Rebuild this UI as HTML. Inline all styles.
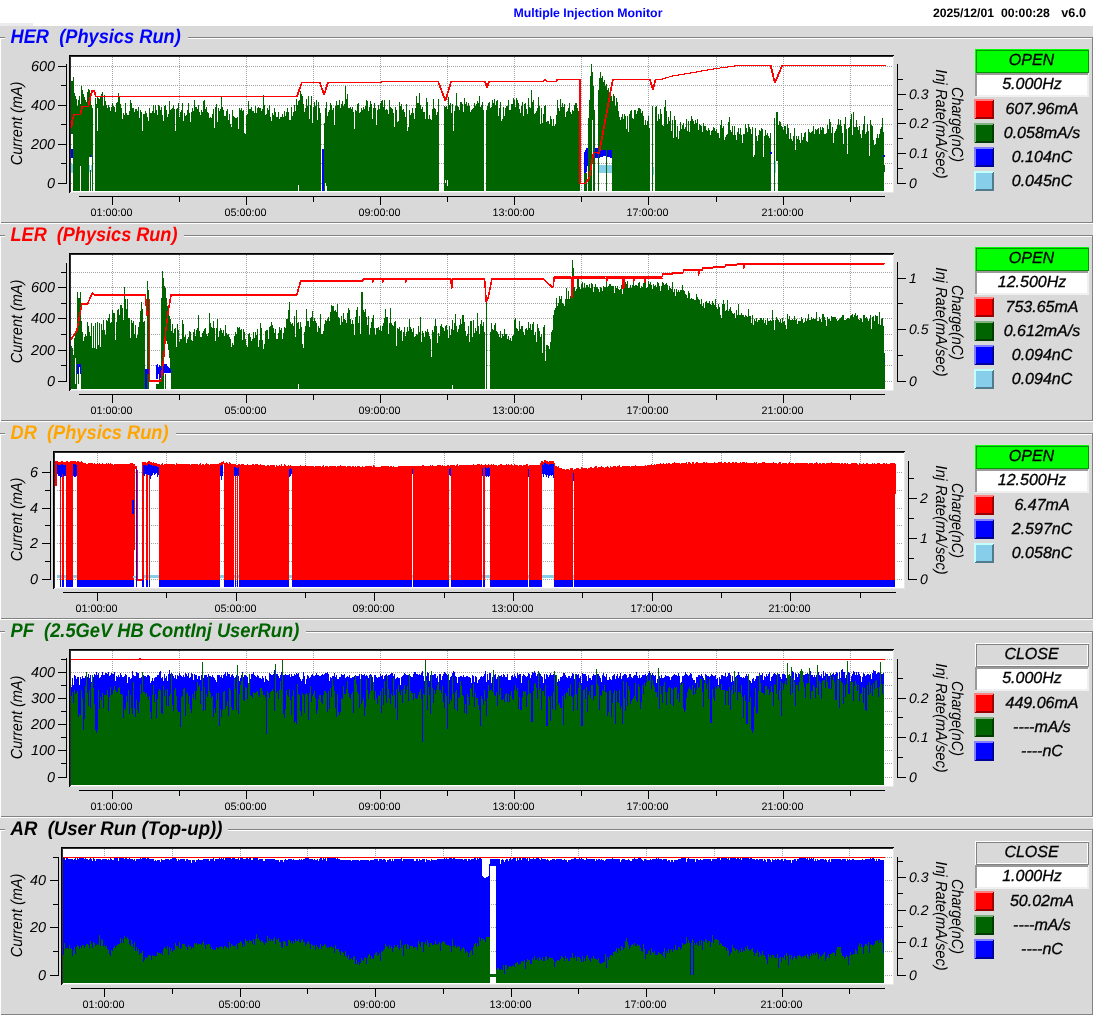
<!DOCTYPE html>
<html><head><meta charset="utf-8"><title>Multiple Injection Monitor</title>
<style>html,body{margin:0;padding:0;background:#d9d9d9;}body{width:1093px;height:1015px;overflow:hidden;font-family:"Liberation Sans",sans-serif;}svg{display:block;will-change:transform;}</style></head>
<body>
<svg width="1093" height="1015" viewBox="0 0 1093 1015" font-family='"Liberation Sans", sans-serif' shape-rendering="crispEdges" text-rendering="geometricPrecision"><rect width="1093" height="1015" fill="#d9d9d9"/>
<rect x="0" y="0" width="1093" height="26" fill="#ffffff"/>
<rect x="0" y="23" width="33" height="3" fill="#ebebeb"/>
<text x="513.5" y="17" font-size="12.3" text-anchor="start" font-style="normal" font-weight="bold" fill="#0000ff" >Multiple Injection Monitor</text>
<text x="933" y="17" font-size="12.2" text-anchor="start" font-style="normal" font-weight="bold" fill="#000" >2025/12/01</text>
<text x="1001" y="17" font-size="12.2" text-anchor="start" font-style="normal" font-weight="bold" fill="#000" >00:00:28</text>
<text x="1061.3" y="17" font-size="12.7" text-anchor="start" font-style="normal" font-weight="bold" fill="#000" >v6.0</text>
<rect x="0" y="37" width="5" height="1" fill="#828282"/>
<rect x="0" y="38" width="5" height="1" fill="#fff"/>
<rect x="188" y="37" width="905" height="1" fill="#828282"/>
<rect x="188" y="38" width="904" height="1" fill="#fff"/>
<rect x="1" y="222" width="1092" height="1" fill="#828282"/>
<rect x="0" y="223" width="1093" height="1" fill="#fff"/>
<rect x="0" y="38" width="1" height="185" fill="#fff"/>
<rect x="1092" y="37" width="1" height="186" fill="#828282"/>
<text x="0" y="0" font-size="19.8" text-anchor="start" font-style="italic" font-weight="bold" fill="#0000ff" transform="translate(10.5,42.8) scale(0.922,1)">HER&#160;&#160;(Physics Run)</text>
<rect x="69" y="55" width="825" height="138" fill="#e6e6e6"/>
<rect x="69" y="55" width="825" height="1" fill="#000"/>
<rect x="69" y="55" width="1" height="138" fill="#000"/>
<rect x="70" y="56" width="823" height="1" fill="#2e2e2e"/>
<rect x="70" y="56" width="1" height="136" fill="#2e2e2e"/>
<rect x="71" y="57" width="822" height="135" fill="#fff"/>
<path d="M71 183.5H892" stroke="#a3a3a3" stroke-width="1" stroke-dasharray="1 1" fill="none"/>
<path d="M71 163.5H892" stroke="#a3a3a3" stroke-width="1" stroke-dasharray="1 1" fill="none"/>
<path d="M71 144.5H892" stroke="#a3a3a3" stroke-width="1" stroke-dasharray="1 1" fill="none"/>
<path d="M71 124.5H892" stroke="#a3a3a3" stroke-width="1" stroke-dasharray="1 1" fill="none"/>
<path d="M71 105.5H892" stroke="#a3a3a3" stroke-width="1" stroke-dasharray="1 1" fill="none"/>
<path d="M71 85.5H892" stroke="#a3a3a3" stroke-width="1" stroke-dasharray="1 1" fill="none"/>
<path d="M71 66.5H892" stroke="#a3a3a3" stroke-width="1" stroke-dasharray="1 1" fill="none"/>
<path d="M112.5 57V191" stroke="#a3a3a3" stroke-width="1" stroke-dasharray="1 1" fill="none"/>
<path d="M179.5 57V191" stroke="#a3a3a3" stroke-width="1" stroke-dasharray="1 1" fill="none"/>
<path d="M246.5 57V191" stroke="#a3a3a3" stroke-width="1" stroke-dasharray="1 1" fill="none"/>
<path d="M313.5 57V191" stroke="#a3a3a3" stroke-width="1" stroke-dasharray="1 1" fill="none"/>
<path d="M380.5 57V191" stroke="#a3a3a3" stroke-width="1" stroke-dasharray="1 1" fill="none"/>
<path d="M447.5 57V191" stroke="#a3a3a3" stroke-width="1" stroke-dasharray="1 1" fill="none"/>
<path d="M514.5 57V191" stroke="#a3a3a3" stroke-width="1" stroke-dasharray="1 1" fill="none"/>
<path d="M581.5 57V191" stroke="#a3a3a3" stroke-width="1" stroke-dasharray="1 1" fill="none"/>
<path d="M648.5 57V191" stroke="#a3a3a3" stroke-width="1" stroke-dasharray="1 1" fill="none"/>
<path d="M716.5 57V191" stroke="#a3a3a3" stroke-width="1" stroke-dasharray="1 1" fill="none"/>
<path d="M783.5 57V191" stroke="#a3a3a3" stroke-width="1" stroke-dasharray="1 1" fill="none"/>
<path d="M850.5 57V191" stroke="#a3a3a3" stroke-width="1" stroke-dasharray="1 1" fill="none"/>
<path fill="#006400" d="M73 191V77h1V93h1V96h1V99h1V106h1V100h1V96h1V104h1V86h1V90h1V94h1V97h1V100h1V102h1V92h1V89h1V90h1V100h1V105h1V108h1V191zM95 191V98h1V104h1V97h1V98h1V99h1V96h1V94h1V92h1V106h1V95h1V101h1V105h1V108h1V105h1V107h1V111h1V107h1V103h1V106h1V107h1V112h1V103h1V102h1V93h1V97h1V104h1V108h1V119h1V113h1V115h1V103h1V113h1V115h2V111h1V100h1V103h1V108h2V112h1V109h2V111h1V107h1V118h1V110h1V112h1V131h1V114h2V111h1V113h1V117h1V121h1V108h1V113h2V111h1V105h1V113h1V105h1V110h1V115h1V105h1V106h1V110h1V107h1V115h1V121h1V106h1V105h1V110h1V117h1V114h1V101h1V110h1V109h1V108h1V105h1V109h1V131h1V109h1V108h1V103h1V117h1V112h1V110h1V103h1V121h1V113h1V116h1V115h1V110h1V103h1V113h1V122h1V112h1V108h1V111h1V100h1V107h2V109h1V105h1V112h1V115h1V110h1V112h1V101h1V100h1V109h1V107h1V112h1V113h1V118h1V117h1V118h1V114h1V109h1V128h1V107h1V104h1V122h1V108h1V111h1V109h1V96h1V107h1V110h1V116h2V111h1V109h1V120h1V114h1V124h1V127h1V110h1V116h1V117h1V118h2V117h1V129h1V108h1V110h1V108h1V111h1V110h1V133h1V134h1V115h1V114h1V101h1V109h2V107h1V111h2V113h1V106h1V113h1V108h1V107h1V108h2V111h1V109h1V95h1V105h1V115h1V114h1V108h1V110h1V105h1V117h1V121h1V113h1V115h1V108h1V112h1V117h2V112h1V119h1V117h2V114h1V117h1V111h1V116h1V112h1V108h1V112h1V120h2V107h1V116h1V112h1V105h1V111h1V99h1V105h1V101h1V100h1V91h1V94h1V96h1V104h1V112h1V108h1V99h1V106h1V96h1V119h1V105h1V96h1V123h1V107h1V102h1V106h1V100h1V120h1V102h1V108h1V113h1V191zM324 191V123h1V108h1V102h1V116h1V112h1V110h1V103h1V105h1V110h1V108h1V125h1V106h1V101h1V105h2V100h1V108h1V104h1V101h1V106h1V104h1V86h1V99h1V94h1V108h2V107h1V109h1V107h1V112h1V129h1V110h1V111h1V104h1V103h1V113h1V112h1V108h1V110h1V107h1V109h1V106h1V100h1V101h1V111h1V107h1V101h1V104h1V119h1V108h1V103h1V108h1V125h1V110h1V105h1V109h1V103h1V101h1V100h1V107h1V100h1V110h1V109h1V110h1V114h1V100h1V107h1V108h1V109h1V113h1V127h1V107h1V110h1V122h1V121h1V102h1V106h1V104h1V110h1V109h1V112h1V117h1V104h1V131h1V127h1V110h1V115h1V113h1V108h1V113h1V119h1V108h1V96h1V103h2V93h1V105h1V109h1V107h1V112h2V119h1V98h1V102h1V119h1V115h1V119h1V120h1V109h1V99h1V108h1V109h1V115h1V112h1V99h1V191zM444 191V106h1V107h1V106h1V109h1V97h1V105h1V103h1V113h1V104h1V131h1V111h1V106h1V93h1V106h1V107h1V110h1V102h2V104h1V112h1V98h1V104h1V102h1V106h1V103h1V106h1V112h1V110h1V109h1V108h1V103h1V106h1V104h1V101h1V103h1V96h1V107h1V105h1V102h1V110h1V191zM486 191V110h1V106h1V103h1V102h1V108h1V107h1V100h1V103h1V99h1V105h1V101h1V100h1V116h1V108h1V102h1V121h1V119h1V107h1V116h1V108h1V106h2V100h1V110h2V104h2V98h1V100h1V107h1V98h1V100h1V103h1V109h1V113h1V106h1V102h1V116h1V104h1V103h1V109h1V114h1V98h1V107h1V108h1V90h1V102h1V100h1V114h1V113h1V111h1V108h1V97h1V106h1V124h1V108h1V123h1V114h1V106h1V105h1V122h1V121h2V124h1V116h1V119h1V126h1V119h1V126h1V124h1V115h1V100h1V108h1V111h1V99h1V107h1V103h1V107h1V104h1V117h1V112h1V111h1V108h1V103h1V112h1V114h1V110h1V111h1V105h1V103h2V108h1V111h1V107h1V191zM612 191V101h1V94h1V96h1V106h1V98h1V102h1V111h1V117h1V120h1V117h1V114h1V119h1V114h1V116h1V129h1V116h1V132h1V114h1V111h1V110h1V118h1V119h1V110h2V114h1V111h1V108h2V109h1V113h1V111h1V116h1V125h1V120h1V125h1V121h1V116h1V128h1V191zM652 191V106h1V191zM655 191V107h1V106h1V121h1V114h1V119h1V109h1V114h1V125h1V126h1V107h1V100h1V111h1V124h1V117h1V121h1V111h1V131h1V120h1V138h1V116h1V120h1V137h1V126h1V139h1V131h1V122h1V129h1V125h1V123h1V129h1V127h1V119h1V131h1V121h1V132h1V121h1V116h1V119h1V121h1V124h1V120h1V123h1V119h1V130h1V124h1V125h1V126h1V132h1V123h1V126h2V130h1V131h1V128h1V130h1V135h1V131h1V130h1V127h1V128h1V131h1V129h1V133h2V138h1V125h1V120h1V128h1V126h1V140h1V137h1V135h1V134h1V122h1V117h1V130h1V132h1V126h1V135h1V126h1V135h1V140h1V132h1V128h1V134h1V128h1V135h1V143h1V134h2V124h1V128h1V132h1V124h1V127h1V129h1V134h1V127h1V157h1V155h1V128h1V136h1V141h1V135h1V130h1V131h1V128h1V129h1V157h1V136h1V130h1V135h1V133h1V136h1V138h1V133h1V191zM774 191V122h1V191zM778 191V125h1V121h1V122h1V126h1V127h1V130h1V126h2V134h1V124h1V128h1V139h1V133h1V139h1V141h1V136h1V128h1V150h1V136h1V139h1V136h1V140h1V143h1V133h1V140h1V137h1V133h1V132h1V141h1V142h1V129h1V132h1V133h1V132h1V131h1V126h1V134h1V129h1V130h1V129h1V128h1V134h1V127h1V130h1V127h1V128h1V134h2V133h1V125h1V129h1V119h1V122h1V133h1V127h1V143h1V133h1V131h1V129h1V125h1V119h1V125h1V120h1V126h1V133h1V144h1V124h1V117h1V129h1V154h1V128h1V127h1V119h1V114h1V135h1V112h1V127h2V120h1V127h1V130h1V126h1V134h1V138h1V130h1V124h1V116h1V134h1V132h1V124h1V131h1V156h1V120h1V125h1V126h1V140h1V145h1V144h1V138h1V134h1V138h1V134h1V129h1V127h1V118h1V132h1V191z"/>
<rect x="80" y="166" width="1" height="25" fill="#fff"/>
<rect x="89" y="157" width="1" height="34" fill="#fff"/>
<rect x="91" y="157" width="1" height="34" fill="#fff"/>
<rect x="298" y="185" width="1" height="6" fill="#fff"/>
<rect x="325" y="183" width="1" height="8" fill="#fff"/>
<rect x="326" y="186" width="1" height="5" fill="#fff"/>
<rect x="97" y="108" width="1" height="23" fill="#fff"/>
<rect x="90" y="157" width="1" height="13" fill="#fff"/>
<rect x="71" y="81" width="2" height="53" fill="#006400"/>
<rect x="71" y="149" width="2" height="9" fill="#0000ff"/>
<rect x="71" y="164" width="2" height="9" fill="#87ceeb"/>
<rect x="89" y="165" width="1" height="7" fill="#87ceeb"/>
<rect x="91" y="165" width="1" height="7" fill="#87ceeb"/>
<rect x="90" y="155" width="1" height="2" fill="#0000ff"/>
<rect x="445" y="180" width="3" height="11" fill="#fff"/>
<rect x="445" y="183" width="1" height="8" fill="#006400"/>
<rect x="446" y="177" width="1" height="14" fill="#006400"/>
<rect x="447" y="186" width="1" height="5" fill="#006400"/>
<rect x="448" y="181" width="1" height="10" fill="#006400"/>
<rect x="322" y="149" width="2" height="42" fill="#0000ff"/>
<path fill="#0000ff" d="M584 178V152h1V178zM585 175V150h1V175zM586 172V148h1V172zM587 166V148h1V166zM588 160V148h1V160zM589 159V147h1V159zM590 158V147h2V158zM592 157V148h3V157zM595 158V148h5V158zM600 157V148h2V147h1V157zM603 156V147h3V156zM606 157V148h4V157zM610 158V149h2V158z"/>
<path fill="#87ceeb" d="M599 173V165h13V173z"/>
<rect x="589" y="166" width="2" height="6" fill="#87ceeb"/>
<rect x="584" y="173" width="3" height="18" fill="#006400"/>
<path fill="#006400" d="M588 191V118h1V100h1V76h1V64h1V72h1V86h1V110h1V191z"/>
<rect x="592" y="120" width="1" height="71" fill="#fff"/>
<path fill="#006400" d="M598 191V90h1V191zM599 150V78h1V72h1V78h1V76h1V82h1V80h1V86h1V150zM606 191V84h1V191zM607 150V90h1V88h1V96h1V92h1V96h1V150z"/>
<rect x="652" y="120" width="1" height="71" fill="#006400"/>
<rect x="653" y="167" width="1" height="8" fill="#87ceeb"/>
<rect x="774" y="118" width="1" height="73" fill="#006400"/>
<rect x="775" y="161" width="1" height="12" fill="#87ceeb"/>
<rect x="776" y="112" width="2" height="49" fill="#006400"/>
<rect x="884" y="165" width="1" height="7" fill="#006400"/>
<rect x="770" y="152" width="2" height="2" fill="#0000ff"/>
<rect x="883" y="155" width="2" height="2" fill="#0000ff"/>
<polyline points="71,128 72,120 74,114 80,114 82,106 88,106 90,97 92,90 93.5,90 95.5,96.5 296.5,96.5 301.5,82.5 319.5,82.5 323.7,95 327.5,82.5 381,82.5 382,81 437.5,81 445,101 450.8,81 484.5,81 486.6,88 488.7,81 543,81 544.5,79.5 546,81 556,81 557,79.5 579.6,79.5 579.6,183.5 584.5,183.5 588.8,178.5 593.3,152 598.7,153.5 612.5,79 649.4,79 652.4,89.5 655.4,79 662,79 672,76 690,73 716,68.5 738,65.5 770.3,65.5 774.5,83 781.8,65.5 885,65.5" fill="none" stroke="#ff0000" stroke-width="1" stroke-linejoin="bevel"/>
<polyline points="71.8,128 72.8,120 74.8,114 80.8,114 82.8,106 88.8,106 90.8,97 92.8,90 94.3,90 96.3,96.5 297.3,96.5 302.3,82.5 320.3,82.5 324.5,95 328.3,82.5 381.8,82.5 382.8,81 438.3,81 445.8,101 451.6,81 485.3,81 487.4,88 489.5,81 543.8,81 545.3,79.5 546.8,81 556.8,81 557.8,79.5 580.4,79.5 580.4,183.5 585.3,183.5 589.6,178.5 594.1,152 599.5,153.5 613.3,79 650.2,79 653.2,89.5 656.2,79 662.8,79 672.8,76 690.8,73 716.8,68.5 738.8,65.5 771.1,65.5 775.3,83 782.6,65.5 885.8,65.5" fill="none" stroke="#ff0000" stroke-width="1" stroke-linejoin="bevel"/>
<rect x="66" y="64" width="1" height="120" fill="#000"/>
<rect x="58" y="183" width="9" height="1" fill="#000"/>
<text x="55" y="187.8" font-size="14.4" text-anchor="end" font-style="italic" font-weight="normal" fill="#000" >0</text>
<rect x="61" y="163" width="6" height="1" fill="#000"/>
<rect x="58" y="144" width="9" height="1" fill="#000"/>
<text x="55" y="148.8" font-size="14.4" text-anchor="end" font-style="italic" font-weight="normal" fill="#000" >200</text>
<rect x="61" y="124" width="6" height="1" fill="#000"/>
<rect x="58" y="105" width="9" height="1" fill="#000"/>
<text x="55" y="109.8" font-size="14.4" text-anchor="end" font-style="italic" font-weight="normal" fill="#000" >400</text>
<rect x="61" y="85" width="6" height="1" fill="#000"/>
<rect x="58" y="66" width="9" height="1" fill="#000"/>
<text x="55" y="70.8" font-size="14.4" text-anchor="end" font-style="italic" font-weight="normal" fill="#000" >600</text>
<text x="0" y="0" font-size="16" text-anchor="middle" font-style="italic" font-weight="normal" fill="#000" transform="translate(22.2,123.5) rotate(-90) scale(0.905,1)">Current (mA)</text>
<rect x="897" y="64" width="1" height="120.4" fill="#000"/>
<rect x="897" y="183" width="9" height="1" fill="#000"/>
<text x="909" y="188" font-size="14" text-anchor="start" font-style="italic" font-weight="normal" fill="#000" >0</text>
<rect x="897" y="168" width="6" height="1" fill="#000"/>
<rect x="897" y="153" width="9" height="1" fill="#000"/>
<text x="909" y="158" font-size="14" text-anchor="start" font-style="italic" font-weight="normal" fill="#000" >0.1</text>
<rect x="897" y="138" width="6" height="1" fill="#000"/>
<rect x="897" y="123" width="9" height="1" fill="#000"/>
<text x="909" y="128" font-size="14" text-anchor="start" font-style="italic" font-weight="normal" fill="#000" >0.2</text>
<rect x="897" y="109" width="6" height="1" fill="#000"/>
<rect x="897" y="94" width="9" height="1" fill="#000"/>
<text x="909" y="99" font-size="14" text-anchor="start" font-style="italic" font-weight="normal" fill="#000" >0.3</text>
<rect x="897" y="79" width="6" height="1" fill="#000"/>
<text x="0" y="0" font-size="16" text-anchor="middle" font-style="italic" font-weight="normal" fill="#000" transform="translate(936,124) rotate(90) scale(0.918,1)">Inj Rate(mA/sec)</text>
<text x="0" y="0" font-size="16" text-anchor="middle" font-style="italic" font-weight="normal" fill="#000" transform="translate(952,124.5) rotate(90) scale(0.895,1)">Charge(nC)</text>
<rect x="79" y="196" width="806" height="1" fill="#000"/>
<rect x="112" y="196" width="1" height="9" fill="#000"/>
<text x="111.5" y="216" font-size="10.8" text-anchor="middle" font-style="normal" font-weight="normal" fill="#000" >01:00:00</text>
<rect x="179" y="196" width="1" height="6" fill="#000"/>
<rect x="246" y="196" width="1" height="9" fill="#000"/>
<text x="245.5" y="216" font-size="10.8" text-anchor="middle" font-style="normal" font-weight="normal" fill="#000" >05:00:00</text>
<rect x="313" y="196" width="1" height="6" fill="#000"/>
<rect x="380" y="196" width="1" height="9" fill="#000"/>
<text x="379.5" y="216" font-size="10.8" text-anchor="middle" font-style="normal" font-weight="normal" fill="#000" >09:00:00</text>
<rect x="447" y="196" width="1" height="6" fill="#000"/>
<rect x="514" y="196" width="1" height="9" fill="#000"/>
<text x="513.5" y="216" font-size="10.8" text-anchor="middle" font-style="normal" font-weight="normal" fill="#000" >13:00:00</text>
<rect x="581" y="196" width="1" height="6" fill="#000"/>
<rect x="648" y="196" width="1" height="9" fill="#000"/>
<text x="647.5" y="216" font-size="10.8" text-anchor="middle" font-style="normal" font-weight="normal" fill="#000" >17:00:00</text>
<rect x="716" y="196" width="1" height="6" fill="#000"/>
<rect x="783" y="196" width="1" height="9" fill="#000"/>
<text x="782.5" y="216" font-size="10.8" text-anchor="middle" font-style="normal" font-weight="normal" fill="#000" >21:00:00</text>
<rect x="850" y="196" width="1" height="6" fill="#000"/>
<rect x="975" y="49" width="114" height="24" fill="#00ff00"/>
<rect x="975" y="49" width="114" height="1" fill="#00ff00"/>
<rect x="975" y="49" width="1" height="24" fill="#00ff00"/>
<rect x="976" y="50" width="112" height="1" fill="#009600"/>
<rect x="976" y="50" width="1" height="22" fill="#009600"/>
<rect x="977" y="71" width="111" height="1" fill="#00ff00"/>
<rect x="1087" y="51" width="1" height="21" fill="#00ff00"/>
<rect x="976" y="72" width="113" height="1" fill="#009600"/>
<rect x="1088" y="50" width="1" height="23" fill="#009600"/>
<text x="1031.5" y="65" font-size="16" text-anchor="middle" font-style="italic" font-weight="normal" fill="#000" stroke="#000" stroke-width="0.3">OPEN</text>
<rect x="975" y="73" width="114" height="24" fill="#f0f0f0"/>
<rect x="975" y="73" width="113" height="2" fill="#9a9a9a"/>
<rect x="975" y="73" width="2" height="23" fill="#9a9a9a"/>
<rect x="977" y="75" width="110" height="20" fill="#fff"/>
<text x="1032" y="89.1" font-size="16" text-anchor="middle" font-style="italic" font-weight="normal" fill="#000" stroke="#000" stroke-width="0.3">5.000Hz</text>
<rect x="974" y="99" width="20" height="20" fill="#ff0000"/>
<rect x="974" y="99" width="20" height="1" fill="#ff8080"/>
<rect x="974" y="99" width="1" height="20" fill="#ff8080"/>
<rect x="975" y="100" width="18" height="1" fill="#ff8080"/>
<rect x="975" y="100" width="1" height="18" fill="#ff8080"/>
<rect x="975" y="118" width="19" height="1" fill="#990000"/>
<rect x="993" y="100" width="1" height="19" fill="#990000"/>
<rect x="976" y="117" width="17" height="1" fill="#990000"/>
<rect x="992" y="101" width="1" height="17" fill="#990000"/>
<text x="1042" y="113.8" font-size="16" text-anchor="middle" font-style="italic" font-weight="normal" fill="#000" stroke="#000" stroke-width="0.3">607.96mA</text>
<rect x="974" y="123" width="20" height="20" fill="#006400"/>
<rect x="974" y="123" width="20" height="1" fill="#7fb27f"/>
<rect x="974" y="123" width="1" height="20" fill="#7fb27f"/>
<rect x="975" y="124" width="18" height="1" fill="#7fb27f"/>
<rect x="975" y="124" width="1" height="18" fill="#7fb27f"/>
<rect x="975" y="142" width="19" height="1" fill="#003c00"/>
<rect x="993" y="124" width="1" height="19" fill="#003c00"/>
<rect x="976" y="141" width="17" height="1" fill="#003c00"/>
<rect x="992" y="125" width="1" height="17" fill="#003c00"/>
<text x="1042" y="137.8" font-size="16" text-anchor="middle" font-style="italic" font-weight="normal" fill="#000" stroke="#000" stroke-width="0.3">0.058mA/s</text>
<rect x="974" y="147" width="20" height="20" fill="#0000ff"/>
<rect x="974" y="147" width="20" height="1" fill="#8080ff"/>
<rect x="974" y="147" width="1" height="20" fill="#8080ff"/>
<rect x="975" y="148" width="18" height="1" fill="#8080ff"/>
<rect x="975" y="148" width="1" height="18" fill="#8080ff"/>
<rect x="975" y="166" width="19" height="1" fill="#000099"/>
<rect x="993" y="148" width="1" height="19" fill="#000099"/>
<rect x="976" y="165" width="17" height="1" fill="#000099"/>
<rect x="992" y="149" width="1" height="17" fill="#000099"/>
<text x="1042" y="161.8" font-size="16" text-anchor="middle" font-style="italic" font-weight="normal" fill="#000" stroke="#000" stroke-width="0.3">0.104nC</text>
<rect x="974" y="171" width="20" height="20" fill="#87ceeb"/>
<rect x="974" y="171" width="20" height="1" fill="#c3ffff"/>
<rect x="974" y="171" width="1" height="20" fill="#c3ffff"/>
<rect x="975" y="172" width="18" height="1" fill="#c3ffff"/>
<rect x="975" y="172" width="1" height="18" fill="#c3ffff"/>
<rect x="975" y="190" width="19" height="1" fill="#517c8d"/>
<rect x="993" y="172" width="1" height="19" fill="#517c8d"/>
<rect x="976" y="189" width="17" height="1" fill="#517c8d"/>
<rect x="992" y="173" width="1" height="17" fill="#517c8d"/>
<text x="1042" y="185.8" font-size="16" text-anchor="middle" font-style="italic" font-weight="normal" fill="#000" stroke="#000" stroke-width="0.3">0.045nC</text>
<rect x="0" y="235" width="5" height="1" fill="#828282"/>
<rect x="0" y="236" width="5" height="1" fill="#fff"/>
<rect x="184" y="235" width="909" height="1" fill="#828282"/>
<rect x="184" y="236" width="908" height="1" fill="#fff"/>
<rect x="1" y="420" width="1092" height="1" fill="#828282"/>
<rect x="0" y="421" width="1093" height="1" fill="#fff"/>
<rect x="0" y="236" width="1" height="185" fill="#fff"/>
<rect x="1092" y="235" width="1" height="186" fill="#828282"/>
<text x="0" y="0" font-size="19.8" text-anchor="start" font-style="italic" font-weight="bold" fill="#ff0000" transform="translate(10.5,240.8) scale(0.915,1)">LER&#160;&#160;(Physics Run)</text>
<rect x="69" y="253" width="825" height="138" fill="#e6e6e6"/>
<rect x="69" y="253" width="825" height="1" fill="#000"/>
<rect x="69" y="253" width="1" height="138" fill="#000"/>
<rect x="70" y="254" width="823" height="1" fill="#2e2e2e"/>
<rect x="70" y="254" width="1" height="136" fill="#2e2e2e"/>
<rect x="71" y="255" width="822" height="135" fill="#fff"/>
<path d="M71 381.5H892" stroke="#a3a3a3" stroke-width="1" stroke-dasharray="1 1" fill="none"/>
<path d="M71 365.5H892" stroke="#a3a3a3" stroke-width="1" stroke-dasharray="1 1" fill="none"/>
<path d="M71 350.5H892" stroke="#a3a3a3" stroke-width="1" stroke-dasharray="1 1" fill="none"/>
<path d="M71 334.5H892" stroke="#a3a3a3" stroke-width="1" stroke-dasharray="1 1" fill="none"/>
<path d="M71 318.5H892" stroke="#a3a3a3" stroke-width="1" stroke-dasharray="1 1" fill="none"/>
<path d="M71 303.5H892" stroke="#a3a3a3" stroke-width="1" stroke-dasharray="1 1" fill="none"/>
<path d="M71 287.5H892" stroke="#a3a3a3" stroke-width="1" stroke-dasharray="1 1" fill="none"/>
<path d="M71 272.5H892" stroke="#a3a3a3" stroke-width="1" stroke-dasharray="1 1" fill="none"/>
<path d="M112.5 255V389" stroke="#a3a3a3" stroke-width="1" stroke-dasharray="1 1" fill="none"/>
<path d="M179.5 255V389" stroke="#a3a3a3" stroke-width="1" stroke-dasharray="1 1" fill="none"/>
<path d="M246.5 255V389" stroke="#a3a3a3" stroke-width="1" stroke-dasharray="1 1" fill="none"/>
<path d="M313.5 255V389" stroke="#a3a3a3" stroke-width="1" stroke-dasharray="1 1" fill="none"/>
<path d="M380.5 255V389" stroke="#a3a3a3" stroke-width="1" stroke-dasharray="1 1" fill="none"/>
<path d="M447.5 255V389" stroke="#a3a3a3" stroke-width="1" stroke-dasharray="1 1" fill="none"/>
<path d="M514.5 255V389" stroke="#a3a3a3" stroke-width="1" stroke-dasharray="1 1" fill="none"/>
<path d="M581.5 255V389" stroke="#a3a3a3" stroke-width="1" stroke-dasharray="1 1" fill="none"/>
<path d="M648.5 255V389" stroke="#a3a3a3" stroke-width="1" stroke-dasharray="1 1" fill="none"/>
<path d="M716.5 255V389" stroke="#a3a3a3" stroke-width="1" stroke-dasharray="1 1" fill="none"/>
<path d="M783.5 255V389" stroke="#a3a3a3" stroke-width="1" stroke-dasharray="1 1" fill="none"/>
<path d="M850.5 255V389" stroke="#a3a3a3" stroke-width="1" stroke-dasharray="1 1" fill="none"/>
<path fill="#006400" d="M71 389V346h1V348h1V355h1V338h1V334h1V332h1V292h1V298h2V292h1V321h1V332h1V341h1V337h1V334h1V336h1V322h1V326h1V332h1V336h1V323h1V348h1V326h1V348h1V323h1V349h1V322h1V345h1V323h1V347h1V324h1V330h1V320h1V330h1V335h1V320h1V321h1V318h1V314h1V323h1V322h1V310h1V313h2V340h1V322h1V310h1V309h1V315h1V305h2V308h1V320h1V287h1V299h1V309h1V299h1V318h2V338h1V320h1V323h1V321h1V334h1V325h1V338h1V335h1V327h1V322h1V311h1V302h1V309h1V322h1V321h1V389zM147 389V281h1V290h1V389zM161 389V298h1V271h1V278h1V286h1V288h1V298h1V306h1V310h1V316h1V319h1V331h1V324h1V333h1V329h1V328h1V347h1V324h1V330h1V342h1V339h2V320h1V324h1V337h1V335h1V343h1V339h1V337h1V331h1V332h1V340h1V341h1V332h1V329h1V336h1V330h1V328h1V315h1V331h1V337h2V333h1V331h1V329h1V328h1V334h1V336h1V333h1V313h1V323h1V327h1V328h1V321h1V328h1V341h1V328h1V319h1V337h1V331h1V328h1V330h1V333h1V330h1V336h1V325h1V333h1V335h1V334h1V337h1V339h1V347h1V343h1V345h1V336h1V332h1V334h1V327h1V328h1V327h1V330h1V329h1V340h1V329h1V332h1V339h1V345h1V347h1V334h1V333h1V337h1V341h1V339h1V332h1V338h1V332h1V335h1V329h1V347h1V340h1V323h1V328h1V340h1V349h1V344h1V331h1V330h2V339h1V327h1V326h1V322h1V325h1V328h1V333h1V329h1V339h2V333h1V327h1V330h1V328h1V339h1V333h1V327h1V328h1V319h2V310h1V302h1V322h1V324h1V323h1V326h1V316h1V337h1V310h1V323h1V322h1V329h1V322h1V327h1V344h1V348h1V332h1V326h1V309h1V321h2V327h1V318h1V317h1V311h1V321h1V318h1V321h1V323h1V332h1V326h1V328h1V314h1V334h2V331h1V324h1V320h1V321h1V319h1V317h1V321h1V312h1V305h1V306h2V311h1V310h1V312h1V304h1V317h1V318h1V325h1V316h1V322h1V313h1V319h1V320h1V323h1V313h1V308h1V310h1V319h1V324h1V320h1V324h1V335h1V317h1V310h1V307h1V323h1V316h1V334h1V292h2V310h1V312h1V309h1V317h1V325h1V316h1V335h1V328h1V322h1V318h1V315h1V328h1V335h1V328h2V327h1V330h1V326h1V331h1V326h1V323h1V318h1V309h1V317h2V334h1V323h1V308h1V323h1V325h1V326h1V322h1V321h1V346h1V328h1V329h1V327h1V331h1V330h1V341h1V332h1V327h1V336h1V332h1V327h1V331h1V319h1V327h1V329h1V332h1V328h1V337h1V336h1V334h1V335h1V326h1V332h1V317h1V342h1V331h1V333h1V337h1V331h1V332h1V329h1V332h1V336h1V339h1V357h1V330h1V332h1V326h1V319h1V326h1V343h1V333h1V336h1V326h1V324h1V327h1V328h1V331h1V326h1V325h1V330h1V338h1V326h1V335h1V329h1V320h1V330h1V323h1V314h1V326h1V332h1V329h1V325h1V319h1V324h1V315h2V322h1V331h1V336h1V334h1V326h1V342h1V321h2V337h1V320h1V333h1V328h1V331h1V313h1V326h1V334h1V324h1V320h1V326h1V322h1V332h1V389zM486 389V303h1V389zM490 389V332h1V323h1V329h1V330h1V325h1V323h1V331h1V332h1V334h1V337h1V331h1V338h1V334h1V336h1V329h1V334h2V339h1V336h1V340h1V338h1V341h1V336h1V335h1V320h1V318h1V328h1V329h1V331h1V321h1V329h1V326h2V332h1V335h1V329h1V328h1V330h1V322h1V328h1V324h1V330h1V324h1V322h1V335h1V332h1V342h1V324h1V328h1V331h1V337h1V334h1V353h1V327h1V325h1V361h1V345h2V346h1V349h1V342h1V332h1V330h1V315h1V310h1V308h1V298h1V306h1V303h1V296h1V299h1V296h1V303h1V304h1V306h1V299h1V288h1V299h1V291h1V299h1V296h1V298h1V260h1V268h1V287h1V291h1V289h1V276h2V287h1V289h1V284h1V282h1V288h1V283h1V288h1V285h2V287h1V284h1V288h1V283h1V284h1V292h1V287h1V284h1V287h2V289h1V292h1V287h1V288h1V291h1V286h1V287h2V279h1V287h1V286h1V284h2V286h3V293h1V286h1V288h1V286h1V289h1V290h1V289h1V285h1V294h1V280h1V286h1V282h1V284h1V281h1V288h2V285h1V288h1V285h1V281h1V286h1V285h2V286h1V283h1V282h1V288h1V286h1V287h1V283h1V280h1V282h1V288h1V287h1V281h1V284h1V282h1V285h1V289h1V284h1V286h1V285h1V287h1V282h1V283h1V286h1V291h1V286h1V282h1V283h1V285h1V284h1V283h1V285h1V290h1V286h1V288h1V289h1V282h1V292h1V289h1V296h1V289h1V292h1V290h1V292h1V290h2V285h1V290h1V291h1V294h1V295h1V298h1V291h1V293h1V299h1V298h1V299h2V300h2V294h1V297h1V299h1V300h1V304h1V299h1V306h1V303h1V308h1V302h1V301h1V303h2V301h1V304h1V305h1V301h1V303h1V305h1V299h1V307h1V309h1V304h1V307h1V315h1V318h1V304h1V300h1V304h1V311h1V310h1V300h1V311h1V309h1V307h1V311h1V313h1V314h1V313h1V318h1V310h1V315h1V304h1V315h2V313h1V315h2V317h1V315h1V316h1V317h1V309h1V316h2V323h1V315h1V325h1V319h1V321h1V318h1V322h1V320h2V318h2V320h1V318h1V323h1V320h1V325h1V318h1V321h2V320h1V321h1V310h1V320h1V330h1V320h1V317h1V319h1V320h1V322h1V319h1V323h1V318h1V322h1V321h1V325h1V329h1V314h1V319h1V316h1V320h2V319h1V320h1V316h1V320h1V319h1V324h1V321h3V317h1V319h1V323h1V322h1V318h1V321h1V319h1V314h1V320h2V317h1V319h1V318h1V319h2V312h1V321h2V317h1V319h1V322h1V314h2V317h1V320h1V326h1V317h1V319h2V321h1V316h1V317h4V319h1V321h1V320h1V319h1V318h1V317h1V315h2V320h2V319h1V318h2V319h1V316h1V315h1V314h1V317h1V315h1V313h1V316h1V315h1V319h1V320h1V318h1V319h1V322h1V315h2V318h1V317h1V319h1V321h1V319h1V315h1V329h1V317h1V316h1V321h1V315h1V316h2V324h1V312h1V325h1V319h1V318h1V326h1V353h1V389z"/>
<rect x="164" y="348" width="1" height="41" fill="#fff"/>
<rect x="165" y="341" width="1" height="48" fill="#fff"/>
<rect x="166" y="341" width="1" height="48" fill="#fff"/>
<rect x="167" y="344" width="1" height="45" fill="#fff"/>
<rect x="168" y="350" width="1" height="39" fill="#fff"/>
<rect x="169" y="358" width="1" height="31" fill="#fff"/>
<rect x="170" y="373" width="1" height="16" fill="#fff"/>
<rect x="165" y="374" width="1" height="15" fill="#006400"/>
<rect x="75" y="358" width="1" height="26" fill="#fff"/>
<rect x="77" y="374" width="1" height="15" fill="#fff"/>
<rect x="79" y="374" width="2" height="15" fill="#fff"/>
<rect x="78" y="384" width="1" height="5" fill="#fff"/>
<rect x="298" y="384" width="1" height="5" fill="#fff"/>
<rect x="452" y="385" width="1" height="4" fill="#fff"/>
<rect x="485" y="348" width="1" height="41" fill="#fff"/>
<rect x="487" y="368" width="1" height="21" fill="#fff"/>
<rect x="488" y="374" width="1" height="15" fill="#fff"/>
<rect x="489" y="381" width="1" height="8" fill="#fff"/>
<rect x="77" y="364" width="4" height="10" fill="#0000ff"/>
<rect x="79" y="367" width="1" height="7" fill="#fff"/>
<rect x="145" y="369" width="2" height="20" fill="#0000ff"/>
<rect x="147" y="369" width="2" height="5" fill="#0000ff"/>
<path fill="#0000ff" d="M156 379V365h1V364h1V379zM158 374V367h1V374zM159 379V365h1V379zM160 378V366h1V378zM161 374V368h1V367h1V374zM163 373V365h1V364h3V366h1V367h1V368h1V369h1V373z"/>
<rect x="156" y="384" width="3" height="5" fill="#006400"/>
<rect x="159" y="379" width="2" height="10" fill="#006400"/>
<rect x="884" y="361" width="1" height="1" fill="#0000ff"/>
<polyline points="71,339 76.6,330.6 81.6,303.6 87.3,303.6 92.2,292.7 94,294 145.1,294 146.9,315" fill="none" stroke="#ff0000" stroke-width="1" stroke-linejoin="bevel"/>
<polyline points="71,340 76.6,331.6 81.6,304.6 87.3,304.6 92.2,293.7 94,295 145.1,295 146.9,316" fill="none" stroke="#ff0000" stroke-width="1" stroke-linejoin="bevel"/>
<polyline points="71.5,339.5 77.1,331.1 82.1,304.1 87.8,304.1 92.7,293.2 94.5,294.5 145.6,294.5 147.4,315.5" fill="none" stroke="#ff0000" stroke-width="1" stroke-linejoin="bevel"/>
<polyline points="149.3,298.6 149.3,380 161,380 163.9,352.5 165.3,332.7 168.1,310 171,294 296.8,294 300.6,280 362.7,280 363.5,278 372,278 372.7,281.5 373.4,278 382,278 382.6,281.5 383.2,278 405,278 405.6,281.5 406.2,278 450.5,278 451.5,288 452.5,278 484.3,278 486.1,302 488,297 491.8,278 543,278 551.4,286 553,286 554,277 571,276.5 572,297 573,276.5 606,276 606.5,281 607,276 622,276 622.8,288 623.6,276 633,276 633.5,281 634,276 644,276 644.5,281.5 645,276 662,276 662.5,273.5 672,273.5 673,272 683,272 683.5,269.5 698,269.5 698.4,275 698.8,269.5 702,269.5 702.5,267 713,267 713.5,266 725,266 725.5,264 737,264 737.5,263 743,263 743.5,268 744,263 884.4,263" fill="none" stroke="#ff0000" stroke-width="1" stroke-linejoin="bevel"/>
<polyline points="149.3,299.6 149.3,381 161,381 163.9,353.5 165.3,333.7 168.1,311 171,295 296.8,295 300.6,281 362.7,281 363.5,279 372,279 372.7,282.5 373.4,279 382,279 382.6,282.5 383.2,279 405,279 405.6,282.5 406.2,279 450.5,279 451.5,289 452.5,279 484.3,279 486.1,303 488,298 491.8,279 543,279 551.4,287 553,287 554,278 571,277.5 572,298 573,277.5 606,277 606.5,282 607,277 622,277 622.8,289 623.6,277 633,277 633.5,282 634,277 644,277 644.5,282.5 645,277 662,277 662.5,274.5 672,274.5 673,273 683,273 683.5,270.5 698,270.5 698.4,276 698.8,270.5 702,270.5 702.5,268 713,268 713.5,267 725,267 725.5,265 737,265 737.5,264 743,264 743.5,269 744,264 884.4,264" fill="none" stroke="#ff0000" stroke-width="1" stroke-linejoin="bevel"/>
<polyline points="149.8,299.1 149.8,380.5 161.5,380.5 164.4,353 165.8,333.2 168.6,310.5 171.5,294.5 297.3,294.5 301.1,280.5 363.2,280.5 364,278.5 372.5,278.5 373.2,282 373.9,278.5 382.5,278.5 383.1,282 383.7,278.5 405.5,278.5 406.1,282 406.7,278.5 451,278.5 452,288.5 453,278.5 484.8,278.5 486.6,302.5 488.5,297.5 492.3,278.5 543.5,278.5 551.9,286.5 553.5,286.5 554.5,277.5 571.5,277 572.5,297.5 573.5,277 606.5,276.5 607,281.5 607.5,276.5 622.5,276.5 623.3,288.5 624.1,276.5 633.5,276.5 634,281.5 634.5,276.5 644.5,276.5 645,282 645.5,276.5 662.5,276.5 663,274 672.5,274 673.5,272.5 683.5,272.5 684,270 698.5,270 698.9,275.5 699.3,270 702.5,270 703,267.5 713.5,267.5 714,266.5 725.5,266.5 726,264.5 737.5,264.5 738,263.5 743.5,263.5 744,268.5 744.5,263.5 884.9,263.5" fill="none" stroke="#ff0000" stroke-width="1" stroke-linejoin="bevel"/>
<rect x="555" y="278" width="108" height="1" fill="#ff0000"/>
<rect x="622" y="278" width="3" height="10" fill="#ff0000"/>
<rect x="66" y="263" width="1" height="119.39999999999998" fill="#000"/>
<rect x="58" y="381" width="9" height="1" fill="#000"/>
<text x="55" y="385.8" font-size="14.4" text-anchor="end" font-style="italic" font-weight="normal" fill="#000" >0</text>
<rect x="61" y="365" width="6" height="1" fill="#000"/>
<rect x="58" y="350" width="9" height="1" fill="#000"/>
<text x="55" y="354.8" font-size="14.4" text-anchor="end" font-style="italic" font-weight="normal" fill="#000" >200</text>
<rect x="61" y="334" width="6" height="1" fill="#000"/>
<rect x="58" y="318" width="9" height="1" fill="#000"/>
<text x="55" y="322.8" font-size="14.4" text-anchor="end" font-style="italic" font-weight="normal" fill="#000" >400</text>
<rect x="61" y="303" width="6" height="1" fill="#000"/>
<rect x="58" y="287" width="9" height="1" fill="#000"/>
<text x="55" y="291.8" font-size="14.4" text-anchor="end" font-style="italic" font-weight="normal" fill="#000" >600</text>
<rect x="61" y="272" width="6" height="1" fill="#000"/>
<text x="0" y="0" font-size="16" text-anchor="middle" font-style="italic" font-weight="normal" fill="#000" transform="translate(22.2,321.5) rotate(-90) scale(0.905,1)">Current (mA)</text>
<rect x="897" y="262" width="1" height="120" fill="#000"/>
<rect x="897" y="381" width="9" height="1" fill="#000"/>
<text x="909" y="386" font-size="14" text-anchor="start" font-style="italic" font-weight="normal" fill="#000" >0</text>
<rect x="897" y="355" width="6" height="1" fill="#000"/>
<rect x="897" y="329" width="9" height="1" fill="#000"/>
<text x="909" y="334" font-size="14" text-anchor="start" font-style="italic" font-weight="normal" fill="#000" >0.5</text>
<rect x="897" y="303" width="6" height="1" fill="#000"/>
<rect x="897" y="278" width="9" height="1" fill="#000"/>
<text x="909" y="283" font-size="14" text-anchor="start" font-style="italic" font-weight="normal" fill="#000" >1</text>
<text x="0" y="0" font-size="16" text-anchor="middle" font-style="italic" font-weight="normal" fill="#000" transform="translate(936,322) rotate(90) scale(0.918,1)">Inj Rate(mA/sec)</text>
<text x="0" y="0" font-size="16" text-anchor="middle" font-style="italic" font-weight="normal" fill="#000" transform="translate(952,322.5) rotate(90) scale(0.895,1)">Charge(nC)</text>
<rect x="79" y="394" width="806" height="1" fill="#000"/>
<rect x="112" y="394" width="1" height="9" fill="#000"/>
<text x="111.5" y="414" font-size="10.8" text-anchor="middle" font-style="normal" font-weight="normal" fill="#000" >01:00:00</text>
<rect x="179" y="394" width="1" height="6" fill="#000"/>
<rect x="246" y="394" width="1" height="9" fill="#000"/>
<text x="245.5" y="414" font-size="10.8" text-anchor="middle" font-style="normal" font-weight="normal" fill="#000" >05:00:00</text>
<rect x="313" y="394" width="1" height="6" fill="#000"/>
<rect x="380" y="394" width="1" height="9" fill="#000"/>
<text x="379.5" y="414" font-size="10.8" text-anchor="middle" font-style="normal" font-weight="normal" fill="#000" >09:00:00</text>
<rect x="447" y="394" width="1" height="6" fill="#000"/>
<rect x="514" y="394" width="1" height="9" fill="#000"/>
<text x="513.5" y="414" font-size="10.8" text-anchor="middle" font-style="normal" font-weight="normal" fill="#000" >13:00:00</text>
<rect x="581" y="394" width="1" height="6" fill="#000"/>
<rect x="648" y="394" width="1" height="9" fill="#000"/>
<text x="647.5" y="414" font-size="10.8" text-anchor="middle" font-style="normal" font-weight="normal" fill="#000" >17:00:00</text>
<rect x="716" y="394" width="1" height="6" fill="#000"/>
<rect x="783" y="394" width="1" height="9" fill="#000"/>
<text x="782.5" y="414" font-size="10.8" text-anchor="middle" font-style="normal" font-weight="normal" fill="#000" >21:00:00</text>
<rect x="850" y="394" width="1" height="6" fill="#000"/>
<rect x="975" y="247" width="114" height="24" fill="#00ff00"/>
<rect x="975" y="247" width="114" height="1" fill="#00ff00"/>
<rect x="975" y="247" width="1" height="24" fill="#00ff00"/>
<rect x="976" y="248" width="112" height="1" fill="#009600"/>
<rect x="976" y="248" width="1" height="22" fill="#009600"/>
<rect x="977" y="269" width="111" height="1" fill="#00ff00"/>
<rect x="1087" y="249" width="1" height="21" fill="#00ff00"/>
<rect x="976" y="270" width="113" height="1" fill="#009600"/>
<rect x="1088" y="248" width="1" height="23" fill="#009600"/>
<text x="1031.5" y="263" font-size="16" text-anchor="middle" font-style="italic" font-weight="normal" fill="#000" stroke="#000" stroke-width="0.3">OPEN</text>
<rect x="975" y="271" width="114" height="24" fill="#f0f0f0"/>
<rect x="975" y="271" width="113" height="2" fill="#9a9a9a"/>
<rect x="975" y="271" width="2" height="23" fill="#9a9a9a"/>
<rect x="977" y="273" width="110" height="20" fill="#fff"/>
<text x="1032" y="287.1" font-size="16" text-anchor="middle" font-style="italic" font-weight="normal" fill="#000" stroke="#000" stroke-width="0.3">12.500Hz</text>
<rect x="974" y="297" width="20" height="20" fill="#ff0000"/>
<rect x="974" y="297" width="20" height="1" fill="#ff8080"/>
<rect x="974" y="297" width="1" height="20" fill="#ff8080"/>
<rect x="975" y="298" width="18" height="1" fill="#ff8080"/>
<rect x="975" y="298" width="1" height="18" fill="#ff8080"/>
<rect x="975" y="316" width="19" height="1" fill="#990000"/>
<rect x="993" y="298" width="1" height="19" fill="#990000"/>
<rect x="976" y="315" width="17" height="1" fill="#990000"/>
<rect x="992" y="299" width="1" height="17" fill="#990000"/>
<text x="1042" y="311.8" font-size="16" text-anchor="middle" font-style="italic" font-weight="normal" fill="#000" stroke="#000" stroke-width="0.3">753.65mA</text>
<rect x="974" y="321" width="20" height="20" fill="#006400"/>
<rect x="974" y="321" width="20" height="1" fill="#7fb27f"/>
<rect x="974" y="321" width="1" height="20" fill="#7fb27f"/>
<rect x="975" y="322" width="18" height="1" fill="#7fb27f"/>
<rect x="975" y="322" width="1" height="18" fill="#7fb27f"/>
<rect x="975" y="340" width="19" height="1" fill="#003c00"/>
<rect x="993" y="322" width="1" height="19" fill="#003c00"/>
<rect x="976" y="339" width="17" height="1" fill="#003c00"/>
<rect x="992" y="323" width="1" height="17" fill="#003c00"/>
<text x="1042" y="335.8" font-size="16" text-anchor="middle" font-style="italic" font-weight="normal" fill="#000" stroke="#000" stroke-width="0.3">0.612mA/s</text>
<rect x="974" y="345" width="20" height="20" fill="#0000ff"/>
<rect x="974" y="345" width="20" height="1" fill="#8080ff"/>
<rect x="974" y="345" width="1" height="20" fill="#8080ff"/>
<rect x="975" y="346" width="18" height="1" fill="#8080ff"/>
<rect x="975" y="346" width="1" height="18" fill="#8080ff"/>
<rect x="975" y="364" width="19" height="1" fill="#000099"/>
<rect x="993" y="346" width="1" height="19" fill="#000099"/>
<rect x="976" y="363" width="17" height="1" fill="#000099"/>
<rect x="992" y="347" width="1" height="17" fill="#000099"/>
<text x="1042" y="359.8" font-size="16" text-anchor="middle" font-style="italic" font-weight="normal" fill="#000" stroke="#000" stroke-width="0.3">0.094nC</text>
<rect x="974" y="369" width="20" height="20" fill="#87ceeb"/>
<rect x="974" y="369" width="20" height="1" fill="#c3ffff"/>
<rect x="974" y="369" width="1" height="20" fill="#c3ffff"/>
<rect x="975" y="370" width="18" height="1" fill="#c3ffff"/>
<rect x="975" y="370" width="1" height="18" fill="#c3ffff"/>
<rect x="975" y="388" width="19" height="1" fill="#517c8d"/>
<rect x="993" y="370" width="1" height="19" fill="#517c8d"/>
<rect x="976" y="387" width="17" height="1" fill="#517c8d"/>
<rect x="992" y="371" width="1" height="17" fill="#517c8d"/>
<text x="1042" y="383.8" font-size="16" text-anchor="middle" font-style="italic" font-weight="normal" fill="#000" stroke="#000" stroke-width="0.3">0.094nC</text>
<rect x="0" y="433" width="5" height="1" fill="#828282"/>
<rect x="0" y="434" width="5" height="1" fill="#fff"/>
<rect x="176" y="433" width="917" height="1" fill="#828282"/>
<rect x="176" y="434" width="916" height="1" fill="#fff"/>
<rect x="1" y="618" width="1092" height="1" fill="#828282"/>
<rect x="0" y="619" width="1093" height="1" fill="#fff"/>
<rect x="0" y="434" width="1" height="185" fill="#fff"/>
<rect x="1092" y="433" width="1" height="186" fill="#828282"/>
<text x="0" y="0" font-size="19.8" text-anchor="start" font-style="italic" font-weight="bold" fill="#ffa500" transform="translate(10.5,438.8) scale(0.922,1)">DR&#160;&#160;(Physics Run)</text>
<rect x="53" y="451" width="852" height="138" fill="#e6e6e6"/>
<rect x="53" y="451" width="852" height="1" fill="#000"/>
<rect x="53" y="451" width="1" height="138" fill="#000"/>
<rect x="54" y="452" width="850" height="1" fill="#2e2e2e"/>
<rect x="54" y="452" width="1" height="136" fill="#2e2e2e"/>
<rect x="55" y="453" width="849" height="135" fill="#fff"/>
<path d="M55 579.5H903" stroke="#a3a3a3" stroke-width="1" stroke-dasharray="1 1" fill="none"/>
<path d="M55 561.5H903" stroke="#a3a3a3" stroke-width="1" stroke-dasharray="1 1" fill="none"/>
<path d="M55 543.5H903" stroke="#a3a3a3" stroke-width="1" stroke-dasharray="1 1" fill="none"/>
<path d="M55 525.5H903" stroke="#a3a3a3" stroke-width="1" stroke-dasharray="1 1" fill="none"/>
<path d="M55 508.5H903" stroke="#a3a3a3" stroke-width="1" stroke-dasharray="1 1" fill="none"/>
<path d="M55 490.5H903" stroke="#a3a3a3" stroke-width="1" stroke-dasharray="1 1" fill="none"/>
<path d="M55 472.5H903" stroke="#a3a3a3" stroke-width="1" stroke-dasharray="1 1" fill="none"/>
<path d="M97.5 453V587" stroke="#a3a3a3" stroke-width="1" stroke-dasharray="1 1" fill="none"/>
<path d="M166.5 453V587" stroke="#a3a3a3" stroke-width="1" stroke-dasharray="1 1" fill="none"/>
<path d="M236.5 453V587" stroke="#a3a3a3" stroke-width="1" stroke-dasharray="1 1" fill="none"/>
<path d="M305.5 453V587" stroke="#a3a3a3" stroke-width="1" stroke-dasharray="1 1" fill="none"/>
<path d="M374.5 453V587" stroke="#a3a3a3" stroke-width="1" stroke-dasharray="1 1" fill="none"/>
<path d="M444.5 453V587" stroke="#a3a3a3" stroke-width="1" stroke-dasharray="1 1" fill="none"/>
<path d="M513.5 453V587" stroke="#a3a3a3" stroke-width="1" stroke-dasharray="1 1" fill="none"/>
<path d="M582.5 453V587" stroke="#a3a3a3" stroke-width="1" stroke-dasharray="1 1" fill="none"/>
<path d="M652.5 453V587" stroke="#a3a3a3" stroke-width="1" stroke-dasharray="1 1" fill="none"/>
<path d="M721.5 453V587" stroke="#a3a3a3" stroke-width="1" stroke-dasharray="1 1" fill="none"/>
<path d="M790.5 453V587" stroke="#a3a3a3" stroke-width="1" stroke-dasharray="1 1" fill="none"/>
<path d="M860.5 453V587" stroke="#a3a3a3" stroke-width="1" stroke-dasharray="1 1" fill="none"/>
<path fill="#0000ff" d="M55 587V580h2V587zM60 587V580h1V587zM62 587V580h2V587zM66 587V580h7V587zM77 587V580h57V587zM142 587V580h2V587zM146 587V580h2V587zM149 587V580h1V587zM159 587V580h61V587zM224 587V580h10V587zM235 587V580h1V587zM237 587V580h1V587zM239 587V580h50V587zM292 587V580h120V587zM413 587V580h36V587zM451 587V580h31V587zM483 587V580h2V587zM490 587V580h38V587zM529 587V580h13V587zM554 587V580h19V587zM574 587V580h322V587z"/>
<path fill="#ff0000" d="M55 580V461h2V580zM60 580V462h1V580zM62 580V461h1V462h1V580zM66 580V461h2V462h2V461h3V580zM77 580V461h2V462h2V461h1V462h1V463h3V464h2V463h5V464h1V463h1V464h2V463h1V464h1V463h1V464h2V463h1V464h3V463h1V464h1V463h1V464h1V463h1V464h2V465h1V464h16V463h3V464h1V580zM142 580V462h2V580zM146 580V463h1V462h1V580zM149 580V461h1V580zM159 580V464h1V465h1V464h1V463h1V465h1V464h11V465h1V463h1V464h13V465h1V464h7V465h1V464h1V463h1V465h1V464h2V465h1V464h1V463h1V464h2V465h1V464h9V463h1V580zM224 580V463h2V462h1V463h1V464h1V462h1V463h1V464h3V580zM235 580V464h1V580zM237 580V465h1V580zM239 580V464h1V465h1V464h3V465h3V464h1V465h4V464h2V465h1V464h3V465h2V464h1V465h4V466h2V465h2V466h1V465h5V467h1V465h1V466h2V465h1V466h1V464h1V466h2V464h1V465h1V466h2V465h1V580zM292 580V466h8V465h1V466h4V465h1V466h8V467h1V466h6V467h1V466h1V465h1V467h1V466h3V467h1V466h7V467h1V466h3V465h1V466h5V467h1V466h4V467h1V466h2V467h1V466h1V467h1V466h3V467h2V466h1V467h2V466h7V467h1V465h1V466h1V467h6V466h8V467h1V466h2V467h1V466h1V467h4V466h14V580zM413 580V466h9V465h2V466h6V465h1V466h1V465h1V466h4V465h4V466h1V465h1V466h4V465h2V580zM451 580V465h4V466h1V465h1V464h1V466h1V465h14V464h1V465h3V464h3V465h1V464h1V580zM483 580V465h2V580zM490 580V465h1V464h1V465h1V464h1V465h3V466h1V465h2V464h2V465h4V464h1V465h1V464h1V465h2V464h1V465h1V466h1V464h1V465h3V466h1V465h3V466h1V465h3V464h2V580zM529 580V465h11V463h1V461h1V580zM554 580V463h1V466h2V467h1V466h1V468h3V469h3V470h1V469h3V470h1V468h3V580zM574 580V469h2V468h3V469h2V467h1V468h5V469h1V468h2V467h2V468h2V467h1V466h2V468h1V467h3V466h1V467h2V468h1V467h2V466h1V467h1V468h1V466h1V467h2V466h3V467h1V466h2V465h1V467h2V466h8V467h1V466h4V465h1V466h9V465h1V466h1V465h4V464h1V465h2V464h1V465h1V464h4V463h1V464h2V463h1V464h2V463h1V464h1V463h2V464h2V463h2V462h1V463h5V464h1V463h5V462h1V464h1V462h2V463h1V464h1V462h2V464h1V463h1V462h2V463h5V462h2V463h1V462h1V463h7V462h1V463h3V462h4V463h2V462h2V463h2V462h2V463h2V462h2V463h1V462h2V463h3V462h1V463h1V462h3V463h1V462h1V463h7V462h1V463h1V462h1V464h1V463h4V462h3V463h8V462h1V463h3V464h1V463h1V462h2V464h1V463h5V464h1V463h1V462h1V463h4V464h1V463h13V464h1V463h4V464h1V463h2V462h1V463h1V464h1V463h2V464h1V463h3V464h1V463h5V462h1V463h8V464h1V463h2V464h1V463h2V464h1V463h1V464h3V463h6V464h1V465h1V463h1V464h3V463h1V464h2V463h2V464h4V463h1V464h1V463h1V464h2V463h3V464h3V463h2V464h1V463h1V464h3V463h5V464h1V580z"/>
<path fill="#ff0000" d="M57 464V461h1V464zM58 465V462h2V465zM61 464V461h1V464zM64 465V462h2V465zM73 464V461h3V464zM76 465V462h1V465zM144 465V462h2V465zM148 464V461h1V464zM150 465V462h2V465zM152 466V463h1V466zM153 465V462h1V465zM154 466V463h3V466zM157 467V464h2V467zM220 466V463h1V466zM221 465V462h2V465zM223 464V461h1V464zM234 467V464h1V467zM236 468V465h1V468zM238 467V464h1V467zM289 469V466h1V469zM290 468V465h1V468zM291 469V466h1V469zM412 469V466h1V469zM449 469V466h1V469zM450 468V465h1V468zM482 468V465h1V468zM485 467V464h1V467zM486 468V465h2V468zM488 467V464h1V467zM489 468V465h1V468zM528 469V466h1V469zM542 464V461h1V464zM543 465V462h1V465zM544 463V460h2V463zM546 464V461h2V464zM548 465V462h1V465zM549 464V461h5V464zM573 473V470h1V473z"/>
<path fill="#87ceeb" d="M57 578V575h3V578zM61 578V575h1V578zM64 578V575h2V578zM73 578V575h4V578zM144 578V575h2V578zM148 578V575h1V578zM150 578V575h9V578zM220 578V575h4V578zM234 578V575h1V578zM236 578V575h1V578zM238 578V575h1V578zM289 578V575h3V578zM412 578V575h1V578zM449 578V575h2V578zM482 578V575h1V578zM485 578V575h5V578zM528 578V575h1V578zM542 578V575h12V578zM573 578V575h1V578z"/>
<path fill="#0000ff" d="M57 474V464h1V474zM58 476V465h2V476zM60 478V465h1V478zM61 477V464h1V477zM62 474V464h1V474zM63 477V465h1V477zM64 476V465h2V476z"/>
<path fill="#0000ff" d="M73 476V464h1V476zM74 477V464h2V477zM76 476V465h1V476z"/>
<path fill="#0000ff" d="M143 475V465h1V475zM144 476V465h1V476zM145 474V465h1V466h1V474zM147 475V465h1V464h2V475zM150 479V465h1V479zM151 476V465h1V476zM152 475V466h1V475zM153 473V465h1V473zM154 475V466h1V475zM155 474V466h1V474zM156 473V466h1V473zM157 477V467h1V477zM158 475V467h1V475z"/>
<path fill="#0000ff" d="M220 476V466h1V476zM221 480V465h1V480zM222 476V465h1V476z"/>
<path fill="#0000ff" d="M234 476V467h2V468h1V476zM237 475V468h1V475zM238 476V467h1V476z"/>
<path fill="#0000ff" d="M289 477V469h1V477zM290 476V468h1V476zM291 474V469h1V474z"/>
<path fill="#0000ff" d="M412 474V469h1V474z"/>
<path fill="#0000ff" d="M449 475V469h1V475zM450 476V468h1V476z"/>
<path fill="#0000ff" d="M482 476V468h1V476z"/>
<path fill="#0000ff" d="M485 476V467h1V476zM486 477V468h1V477zM487 476V468h1V476zM488 477V467h1V477zM489 476V468h1V476z"/>
<path fill="#0000ff" d="M528 477V469h1V477z"/>
<path fill="#0000ff" d="M542 474V464h1V474zM543 477V465h1V477zM544 474V463h1V474zM545 475V463h1V475zM546 477V464h1V477zM547 475V464h1V475zM548 478V465h1V478zM549 476V464h1V476zM550 475V464h1V475zM551 476V464h1V476zM552 475V464h1V475zM553 478V464h1V478z"/>
<path fill="#0000ff" d="M573 481V473h1V481z"/>
<rect x="55" y="462" width="2" height="24" fill="#ff0000"/>
<rect x="55" y="486" width="2" height="101" fill="#fff"/>
<rect x="132" y="500" width="2" height="14" fill="#0000ff"/>
<rect x="134" y="464" width="1" height="86" fill="#ff0000"/>
<rect x="136" y="469" width="1" height="118" fill="#0000ff"/>
<rect x="137" y="470" width="1" height="110" fill="#ff0000"/>
<rect x="135" y="466" width="2" height="3" fill="#ff0000"/>
<rect x="137" y="579" width="5" height="2" fill="#ff0000"/>
<rect x="142" y="462" width="1" height="118" fill="#ff0000"/>
<rect x="133" y="576" width="3" height="2" fill="#87ceeb"/>
<rect x="895" y="464" width="1" height="30" fill="#ff0000"/>
<rect x="895" y="494" width="1" height="93" fill="#fff"/>
<rect x="50" y="461" width="1" height="119.39999999999998" fill="#000"/>
<rect x="42" y="579" width="9" height="1" fill="#000"/>
<text x="38" y="583.8" font-size="14.4" text-anchor="end" font-style="italic" font-weight="normal" fill="#000" >0</text>
<rect x="45" y="561" width="6" height="1" fill="#000"/>
<rect x="42" y="543" width="9" height="1" fill="#000"/>
<text x="38" y="547.8" font-size="14.4" text-anchor="end" font-style="italic" font-weight="normal" fill="#000" >2</text>
<rect x="45" y="525" width="6" height="1" fill="#000"/>
<rect x="42" y="508" width="9" height="1" fill="#000"/>
<text x="38" y="512.8" font-size="14.4" text-anchor="end" font-style="italic" font-weight="normal" fill="#000" >4</text>
<rect x="45" y="490" width="6" height="1" fill="#000"/>
<rect x="42" y="472" width="9" height="1" fill="#000"/>
<text x="38" y="476.8" font-size="14.4" text-anchor="end" font-style="italic" font-weight="normal" fill="#000" >6</text>
<text x="0" y="0" font-size="16" text-anchor="middle" font-style="italic" font-weight="normal" fill="#000" transform="translate(21.7,519.5) rotate(-90) scale(0.905,1)">Current (mA)</text>
<rect x="908" y="461" width="1" height="119.20000000000005" fill="#000"/>
<rect x="908" y="579" width="9" height="1" fill="#000"/>
<text x="920" y="584" font-size="14" text-anchor="start" font-style="italic" font-weight="normal" fill="#000" >0</text>
<rect x="908" y="558" width="6" height="1" fill="#000"/>
<rect x="908" y="538" width="9" height="1" fill="#000"/>
<text x="920" y="543" font-size="14" text-anchor="start" font-style="italic" font-weight="normal" fill="#000" >1</text>
<rect x="908" y="518" width="6" height="1" fill="#000"/>
<rect x="908" y="498" width="9" height="1" fill="#000"/>
<text x="920" y="503" font-size="14" text-anchor="start" font-style="italic" font-weight="normal" fill="#000" >2</text>
<rect x="908" y="478" width="6" height="1" fill="#000"/>
<text x="0" y="0" font-size="16" text-anchor="middle" font-style="italic" font-weight="normal" fill="#000" transform="translate(936,520) rotate(90) scale(0.918,1)">Inj Rate(mA/sec)</text>
<text x="0" y="0" font-size="16" text-anchor="middle" font-style="italic" font-weight="normal" fill="#000" transform="translate(952,520.5) rotate(90) scale(0.895,1)">Charge(nC)</text>
<rect x="63" y="592" width="833" height="1" fill="#000"/>
<rect x="97" y="592" width="1" height="9" fill="#000"/>
<text x="96.5" y="612" font-size="10.8" text-anchor="middle" font-style="normal" font-weight="normal" fill="#000" >01:00:00</text>
<rect x="166" y="592" width="1" height="6" fill="#000"/>
<rect x="236" y="592" width="1" height="9" fill="#000"/>
<text x="235.5" y="612" font-size="10.8" text-anchor="middle" font-style="normal" font-weight="normal" fill="#000" >05:00:00</text>
<rect x="305" y="592" width="1" height="6" fill="#000"/>
<rect x="374" y="592" width="1" height="9" fill="#000"/>
<text x="373.5" y="612" font-size="10.8" text-anchor="middle" font-style="normal" font-weight="normal" fill="#000" >09:00:00</text>
<rect x="444" y="592" width="1" height="6" fill="#000"/>
<rect x="513" y="592" width="1" height="9" fill="#000"/>
<text x="512.5" y="612" font-size="10.8" text-anchor="middle" font-style="normal" font-weight="normal" fill="#000" >13:00:00</text>
<rect x="582" y="592" width="1" height="6" fill="#000"/>
<rect x="652" y="592" width="1" height="9" fill="#000"/>
<text x="651.5" y="612" font-size="10.8" text-anchor="middle" font-style="normal" font-weight="normal" fill="#000" >17:00:00</text>
<rect x="721" y="592" width="1" height="6" fill="#000"/>
<rect x="790" y="592" width="1" height="9" fill="#000"/>
<text x="789.5" y="612" font-size="10.8" text-anchor="middle" font-style="normal" font-weight="normal" fill="#000" >21:00:00</text>
<rect x="860" y="592" width="1" height="6" fill="#000"/>
<rect x="975" y="445" width="114" height="24" fill="#00ff00"/>
<rect x="975" y="445" width="114" height="1" fill="#00ff00"/>
<rect x="975" y="445" width="1" height="24" fill="#00ff00"/>
<rect x="976" y="446" width="112" height="1" fill="#009600"/>
<rect x="976" y="446" width="1" height="22" fill="#009600"/>
<rect x="977" y="467" width="111" height="1" fill="#00ff00"/>
<rect x="1087" y="447" width="1" height="21" fill="#00ff00"/>
<rect x="976" y="468" width="113" height="1" fill="#009600"/>
<rect x="1088" y="446" width="1" height="23" fill="#009600"/>
<text x="1031.5" y="461" font-size="16" text-anchor="middle" font-style="italic" font-weight="normal" fill="#000" stroke="#000" stroke-width="0.3">OPEN</text>
<rect x="975" y="469" width="114" height="24" fill="#f0f0f0"/>
<rect x="975" y="469" width="113" height="2" fill="#9a9a9a"/>
<rect x="975" y="469" width="2" height="23" fill="#9a9a9a"/>
<rect x="977" y="471" width="110" height="20" fill="#fff"/>
<text x="1032" y="485.1" font-size="16" text-anchor="middle" font-style="italic" font-weight="normal" fill="#000" stroke="#000" stroke-width="0.3">12.500Hz</text>
<rect x="974" y="495" width="20" height="20" fill="#ff0000"/>
<rect x="974" y="495" width="20" height="1" fill="#ff8080"/>
<rect x="974" y="495" width="1" height="20" fill="#ff8080"/>
<rect x="975" y="496" width="18" height="1" fill="#ff8080"/>
<rect x="975" y="496" width="1" height="18" fill="#ff8080"/>
<rect x="975" y="514" width="19" height="1" fill="#990000"/>
<rect x="993" y="496" width="1" height="19" fill="#990000"/>
<rect x="976" y="513" width="17" height="1" fill="#990000"/>
<rect x="992" y="497" width="1" height="17" fill="#990000"/>
<text x="1042" y="509.8" font-size="16" text-anchor="middle" font-style="italic" font-weight="normal" fill="#000" stroke="#000" stroke-width="0.3">6.47mA</text>
<rect x="974" y="519" width="20" height="20" fill="#0000ff"/>
<rect x="974" y="519" width="20" height="1" fill="#8080ff"/>
<rect x="974" y="519" width="1" height="20" fill="#8080ff"/>
<rect x="975" y="520" width="18" height="1" fill="#8080ff"/>
<rect x="975" y="520" width="1" height="18" fill="#8080ff"/>
<rect x="975" y="538" width="19" height="1" fill="#000099"/>
<rect x="993" y="520" width="1" height="19" fill="#000099"/>
<rect x="976" y="537" width="17" height="1" fill="#000099"/>
<rect x="992" y="521" width="1" height="17" fill="#000099"/>
<text x="1042" y="533.8" font-size="16" text-anchor="middle" font-style="italic" font-weight="normal" fill="#000" stroke="#000" stroke-width="0.3">2.597nC</text>
<rect x="974" y="543" width="20" height="20" fill="#87ceeb"/>
<rect x="974" y="543" width="20" height="1" fill="#c3ffff"/>
<rect x="974" y="543" width="1" height="20" fill="#c3ffff"/>
<rect x="975" y="544" width="18" height="1" fill="#c3ffff"/>
<rect x="975" y="544" width="1" height="18" fill="#c3ffff"/>
<rect x="975" y="562" width="19" height="1" fill="#517c8d"/>
<rect x="993" y="544" width="1" height="19" fill="#517c8d"/>
<rect x="976" y="561" width="17" height="1" fill="#517c8d"/>
<rect x="992" y="545" width="1" height="17" fill="#517c8d"/>
<text x="1042" y="557.8" font-size="16" text-anchor="middle" font-style="italic" font-weight="normal" fill="#000" stroke="#000" stroke-width="0.3">0.058nC</text>
<rect x="0" y="631" width="5" height="1" fill="#828282"/>
<rect x="0" y="632" width="5" height="1" fill="#fff"/>
<rect x="306" y="631" width="787" height="1" fill="#828282"/>
<rect x="306" y="632" width="786" height="1" fill="#fff"/>
<rect x="1" y="816" width="1092" height="1" fill="#828282"/>
<rect x="0" y="817" width="1093" height="1" fill="#fff"/>
<rect x="0" y="632" width="1" height="185" fill="#fff"/>
<rect x="1092" y="631" width="1" height="186" fill="#828282"/>
<text x="0" y="0" font-size="19.8" text-anchor="start" font-style="italic" font-weight="bold" fill="#006400" transform="translate(10.5,636.8) scale(0.925,1)">PF&#160;&#160;(2.5GeV HB ContInj UserRun)</text>
<rect x="69" y="649" width="825" height="138" fill="#e6e6e6"/>
<rect x="69" y="649" width="825" height="1" fill="#000"/>
<rect x="69" y="649" width="1" height="138" fill="#000"/>
<rect x="70" y="650" width="823" height="1" fill="#2e2e2e"/>
<rect x="70" y="650" width="1" height="136" fill="#2e2e2e"/>
<rect x="71" y="651" width="822" height="135" fill="#fff"/>
<path d="M71 777.5H892" stroke="#a3a3a3" stroke-width="1" stroke-dasharray="1 1" fill="none"/>
<path d="M71 763.5H892" stroke="#a3a3a3" stroke-width="1" stroke-dasharray="1 1" fill="none"/>
<path d="M71 750.5H892" stroke="#a3a3a3" stroke-width="1" stroke-dasharray="1 1" fill="none"/>
<path d="M71 737.5H892" stroke="#a3a3a3" stroke-width="1" stroke-dasharray="1 1" fill="none"/>
<path d="M71 724.5H892" stroke="#a3a3a3" stroke-width="1" stroke-dasharray="1 1" fill="none"/>
<path d="M71 711.5H892" stroke="#a3a3a3" stroke-width="1" stroke-dasharray="1 1" fill="none"/>
<path d="M71 698.5H892" stroke="#a3a3a3" stroke-width="1" stroke-dasharray="1 1" fill="none"/>
<path d="M71 685.5H892" stroke="#a3a3a3" stroke-width="1" stroke-dasharray="1 1" fill="none"/>
<path d="M71 672.5H892" stroke="#a3a3a3" stroke-width="1" stroke-dasharray="1 1" fill="none"/>
<path d="M71 659.5H892" stroke="#a3a3a3" stroke-width="1" stroke-dasharray="1 1" fill="none"/>
<path d="M112.5 651V785" stroke="#a3a3a3" stroke-width="1" stroke-dasharray="1 1" fill="none"/>
<path d="M179.5 651V785" stroke="#a3a3a3" stroke-width="1" stroke-dasharray="1 1" fill="none"/>
<path d="M246.5 651V785" stroke="#a3a3a3" stroke-width="1" stroke-dasharray="1 1" fill="none"/>
<path d="M313.5 651V785" stroke="#a3a3a3" stroke-width="1" stroke-dasharray="1 1" fill="none"/>
<path d="M380.5 651V785" stroke="#a3a3a3" stroke-width="1" stroke-dasharray="1 1" fill="none"/>
<path d="M447.5 651V785" stroke="#a3a3a3" stroke-width="1" stroke-dasharray="1 1" fill="none"/>
<path d="M514.5 651V785" stroke="#a3a3a3" stroke-width="1" stroke-dasharray="1 1" fill="none"/>
<path d="M581.5 651V785" stroke="#a3a3a3" stroke-width="1" stroke-dasharray="1 1" fill="none"/>
<path d="M648.5 651V785" stroke="#a3a3a3" stroke-width="1" stroke-dasharray="1 1" fill="none"/>
<path d="M716.5 651V785" stroke="#a3a3a3" stroke-width="1" stroke-dasharray="1 1" fill="none"/>
<path d="M783.5 651V785" stroke="#a3a3a3" stroke-width="1" stroke-dasharray="1 1" fill="none"/>
<path d="M850.5 651V785" stroke="#a3a3a3" stroke-width="1" stroke-dasharray="1 1" fill="none"/>
<path fill="#0000ff" d="M71 696V687h1V696zM72 692V678h1V692zM73 703V685h1V703zM74 690V675h1V690zM75 694V676h1V694zM76 693V679h1V693zM77 691V677h1V691zM78 717V677h1V717zM79 714V685h1V714zM80 715V677h1V715zM81 690V679h1V690zM82 698V676h1V698zM83 730V678h1V730zM84 719V678h1V719zM85 686V676h1V686zM87 693V677h1V693zM88 706V674h1V706zM89 690V678h1V690zM90 708V675h1V708zM91 683V682h1V683zM93 688V677h1V688zM94 704V674h1V704zM95 730V675h1V730zM96 733V672h1V733zM97 730V675h1V730zM98 690V673h1V690zM99 709V678h1V709zM100 697V677h1V697zM101 700V675h1V700zM102 693V672h1V693zM103 708V675h1V708zM104 695V675h1V673h2V695zM107 690V674h1V690zM108 711V672h1V711zM109 697V676h1V697zM110 687V675h1V687zM111 695V673h1V695zM112 694V674h1V694zM113 690V674h1V690zM114 686V672h1V686zM115 690V681h1V690zM116 692V676h1V677h1V692zM118 688V675h1V688zM119 687V677h1V687zM120 694V673h1V675h1V694zM122 695V677h1V695zM123 718V677h1V718zM124 708V676h1V708zM125 710V674h1V710zM126 696V675h1V696zM127 702V683h1V702zM128 690V677h1V690zM129 714V677h1V714zM130 695V679h1V695zM131 708V678h1V708zM132 714V671h1V714zM133 682V675h1V682zM134 708V676h1V708zM135 717V676h1V717zM136 700V672h1V700zM137 710V673h1V710zM138 713V673h1V713zM139 702V678h1V702zM140 684V678h1V684zM141 694V677h1V694zM143 692V675h1V676h1V692zM145 694V676h1V694zM146 693V677h1V693zM147 697V675h1V697zM148 700V675h1V700zM149 696V676h1V696zM150 712V683h1V712zM151 719V681h1V719zM152 695V678h1V695zM153 685V681h1V685zM154 702V678h1V702zM155 694V677h1V694zM156 718V677h1V718zM157 699V675h1V699zM158 691V675h1V691zM159 689V672h1V689zM160 690V671h1V690zM161 713V678h1V713zM162 714V677h1V714zM163 686V681h1V686zM164 696V674h1V696zM165 690V678h1V690zM166 706V676h1V706zM167 689V681h1V689zM168 706V674h1V706zM169 696V670h1V696zM170 694V674h1V694zM171 674V673h1V674zM172 705V674h1V705zM173 711V676h1V711zM174 690V678h1V690zM175 688V675h1V688zM176 696V679h1V696zM177 710V675h1V710zM178 712V676h1V673h1V712zM180 727V675h1V727zM181 697V676h1V697zM182 696V677h1V696zM183 689V675h1V689zM184 688V677h1V688zM185 716V673h1V716zM186 694V674h1V694zM187 692V676h1V692zM188 704V673h1V704zM189 696V678h1V696zM190 709V677h1V709zM191 713V673h1V713zM192 694V674h1V694zM193 698V680h1V698zM194 691V674h1V691zM195 700V675h1V700zM196 691V675h1V691zM197 682V679h1V682zM198 687V676h1V687zM199 685V676h1V685zM200 704V680h1V704zM201 691V675h1V691zM203 711V678h1V711zM204 687V675h1V687zM205 710V675h1V710zM206 694V675h1V694zM207 697V677h1V697zM208 677V674h1V677zM209 691V676h1V691zM210 693V676h1V693zM211 698V677h1V698zM212 696V675h1V696zM213 717V677h1V717zM214 708V678h1V708zM215 713V680h1V713zM216 693V682h1V693zM217 700V675h1V700zM218 693V675h1V693zM219 726V675h1V726zM220 709V677h1V709zM221 717V675h1V717zM222 710V678h1V710zM223 692V675h1V692zM224 691V674h1V691zM225 709V672h1V709zM226 706V676h1V706zM227 701V672h1V701zM228 716V674h1V716zM229 688V674h1V688zM230 690V677h1V690zM231 707V675h1V707zM232 710V674h1V676h1V710zM234 679V678h1V679zM235 689V677h1V689zM236 710V675h1V710zM238 714V676h1V714zM239 694V681h1V694zM240 685V678h1V685zM241 681V675h1V681zM242 673V672h1V673zM243 700V677h1V700zM244 701V675h1V701zM245 687V675h1V687zM246 688V676h1V688zM247 699V677h1V699zM250 695V679h1V695zM251 696V674h1V696zM252 698V674h1V698zM253 692V672h1V692zM254 693V675h1V676h1V693zM256 692V677h1V692zM257 691V675h1V691zM258 695V676h1V695zM259 697V678h1V697zM260 688V678h1V679h1V688zM262 691V676h1V691zM263 695V678h1V682h1V695zM265 697V676h1V697zM266 734V679h1V734zM267 691V680h1V691zM268 693V681h1V693zM269 698V673h1V698zM270 692V674h1V692zM271 691V675h1V691zM272 689V675h1V689zM273 691V674h1V691zM274 711V670h1V711zM276 693V674h1V693zM277 691V674h1V691zM278 699V676h1V699zM279 690V678h1V690zM280 681V675h1V681zM281 690V672h1V690zM283 714V675h1V714zM284 718V675h1V718zM285 709V674h1V709zM286 690V675h1V690zM287 695V675h1V695zM288 697V675h1V697zM289 689V674h1V689zM290 700V677h1V700zM291 715V674h1V715zM292 696V676h1V696zM293 690V676h1V690zM294 723V674h1V723zM295 721V675h1V721zM296 724V673h1V724zM297 684V674h1V684zM298 694V673h1V694zM299 695V677h1V695zM300 711V679h1V711zM301 716V681h1V716zM302 693V679h1V693zM303 695V672h1V695zM304 713V676h1V713zM305 694V684h1V694zM306 693V679h1V693zM307 695V675h1V695zM308 720V676h1V720zM309 693V678h1V693zM310 686V677h1V686zM311 702V675h1V702zM312 696V674h1V696zM313 694V676h1V694zM314 691V676h1V691zM315 698V675h1V698zM316 714V673h1V714zM317 710V675h1V710zM318 699V675h1V699zM319 695V676h2V695zM321 702V675h1V702zM322 704V674h1V704zM323 695V675h1V695zM324 691V674h1V673h1V691zM326 693V673h1V693zM327 712V672h1V712zM328 691V674h1V691zM329 709V681h1V709zM330 688V677h1V688zM331 697V678h1V697zM332 679V676h1V679zM333 686V676h1V686zM334 691V673h1V691zM335 708V677h1V708zM336 717V675h1V717zM337 694V679h1V694zM338 712V679h1V712zM339 715V677h1V715zM340 712V677h1V712zM341 698V674h1V698zM342 699V675h1V699zM343 686V675h1V686zM344 694V674h1V678h1V694zM346 689V677h1V689zM347 681V676h1V681zM348 693V677h1V693zM349 697V675h1V697zM350 699V678h1V699zM351 694V678h1V694zM352 692V677h1V692zM353 713V677h1V713zM354 680V676h1V680zM355 676V675h1V676zM356 684V676h1V684zM357 692V676h1V692zM358 694V676h1V694zM359 708V674h1V708zM361 704V674h1V704zM362 701V675h1V701zM363 698V675h1V698zM364 716V674h1V716zM365 707V676h1V707zM366 679V675h1V679zM367 690V676h1V690zM368 699V678h1V699zM369 694V675h1V694zM370 676V674h1V676zM371 691V675h1V691zM372 690V677h1V690zM374 700V675h1V700zM375 691V675h1V691zM376 698V677h1V698zM377 704V678h1V704zM378 695V677h1V695zM379 696V677h1V696zM380 691V674h1V691zM381 713V676h1V713zM382 688V675h1V688zM383 705V679h1V705zM384 681V676h1V681zM385 695V675h1V695zM386 703V674h1V703zM388 689V675h1V689zM389 698V675h1V698zM390 704V674h1V704zM391 694V673h1V694zM392 696V673h1V696zM393 678V676h1V678zM394 695V674h1V695zM395 708V679h1V708zM396 689V678h1V689zM397 720V677h1V720zM398 685V678h1V685zM399 692V678h1V692zM400 695V685h1V695zM401 690V677h1V690zM402 703V676h1V703zM403 689V675h1V689zM404 685V673h1V685zM405 694V674h1V694zM406 690V675h1V690zM407 686V675h1V686zM408 701V675h1V701zM410 691V676h1V691zM411 693V677h2V693zM413 700V674h1V700zM414 693V672h1V693zM415 698V672h1V698zM416 699V674h1V699zM417 698V674h1V698zM418 695V675h1V695zM419 692V674h1V692zM420 689V675h1V689zM421 699V673h1V699zM422 742V671h1V742zM423 694V676h1V694zM424 695V681h1V695zM426 680V676h1V680zM427 710V672h1V710zM428 687V673h1V687zM429 695V681h1V695zM430 714V675h1V714zM432 688V675h1V688zM433 703V675h1V703zM434 690V674h1V690zM435 694V674h1V694zM436 690V678h1V690zM437 685V676h1V685zM439 690V674h2V690zM441 693V680h1V693zM442 686V676h1V686zM443 702V674h1V702zM444 708V672h1V708zM445 693V673h1V693zM446 696V674h1V696zM447 729V675h1V729zM449 704V680h1V704zM450 699V677h1V699zM451 701V676h1V701zM452 677V673h1V677zM453 694V671h1V694zM454 709V672h1V709zM455 692V676h1V692zM456 690V677h1V690zM457 711V683h1V711zM458 698V677h1V698zM459 697V677h1V697zM460 681V676h1V681zM461 686V676h1V686zM462 695V677h1V695zM463 696V675h1V696zM464 713V677h1V713zM465 704V677h1V704zM466 714V676h1V714zM467 694V676h1V694zM468 697V677h1V697zM469 705V677h1V705zM470 688V678h1V688zM471 689V683h1V689zM472 697V675h1V697zM473 684V676h1V684zM474 707V682h1V707zM475 693V676h1V693zM476 698V677h1V683h1V698zM478 705V680h1V705zM479 710V679h1V710zM480 726V677h1V726zM481 696V676h1V696zM482 699V677h1V699zM483 705V676h1V705zM484 690V674h1V690zM485 701V671h1V701zM486 716V682h1V716zM487 698V674h1V698zM488 685V680h1V685zM489 691V673h1V691zM490 690V673h1V683h1V690zM492 692V677h1V692zM494 695V675h1V695zM495 696V674h1V696zM496 692V679h1V692zM497 706V677h1V706zM499 695V676h1V695zM500 688V676h1V688zM501 700V675h1V677h1V700zM503 699V674h1V699zM504 702V675h1V702zM505 694V677h1V694zM506 693V677h1V693zM507 702V674h1V702zM508 694V680h1V694zM509 702V680h1V702zM510 696V680h1V696zM511 691V676h1V691zM512 699V675h1V699zM513 700V677h1V700zM514 690V674h1V690zM515 685V676h1V685zM516 691V678h1V691zM517 688V673h1V688zM518 709V675h1V709zM519 697V674h1V697zM520 710V674h1V683h1V710zM522 697V676h1V697zM523 691V674h1V691zM524 692V675h1V692zM525 691V676h1V691zM526 707V677h1V707zM527 695V676h1V695zM528 680V673h1V680zM529 694V674h1V694zM530 693V678h1V693zM531 722V675h1V672h1V722zM533 691V673h1V691zM534 684V671h1V684zM535 683V673h1V683zM536 688V676h1V688zM537 699V674h1V699zM539 690V673h1V690zM540 688V674h1V688zM541 710V676h1V710zM542 691V677h1V683h1V691zM544 696V674h1V696zM545 685V679h1V685zM546 726V674h1V675h1V726zM548 696V677h1V696zM549 698V675h1V698zM550 721V673h1V721zM551 696V675h1V696zM552 709V675h1V709zM553 692V674h1V692zM555 710V675h1V710zM557 686V682h1V686zM558 705V679h1V705zM559 703V681h1V703zM560 708V677h2V708zM562 696V676h1V696zM563 725V673h1V725zM564 694V673h1V694zM565 699V675h1V699zM566 692V677h1V692zM567 693V678h1V693zM568 688V676h1V688zM569 696V676h1V696zM570 684V678h1V684zM571 696V676h1V696zM572 697V673h1V697zM573 711V674h1V711zM574 695V679h1V695zM576 694V674h1V694zM577 710V675h1V710zM578 688V674h1V688zM579 682V678h1V682zM580 685V676h1V685zM581 726V683h1V673h1V726zM583 690V674h1V690zM584 689V674h1V689zM585 699V674h1V699zM586 687V676h1V687zM587 712V681h1V712zM588 695V675h1V695zM589 691V678h1V691zM590 698V678h1V698zM591 685V680h1V676h1V685zM593 700V674h1V700zM594 696V675h2V696zM597 684V674h1V684zM598 686V674h1V686zM599 710V676h1V710zM600 695V678h1V695zM601 696V682h1V696zM602 690V675h1V690zM603 691V673h1V691zM604 685V676h1V685zM605 692V677h1V674h1V692zM607 716V680h1V716zM608 712V680h1V712zM609 691V677h1V691zM610 690V679h1V690zM611 717V680h1V717zM612 703V676h1V703zM613 693V675h1V693zM614 690V674h1V690zM615 724V679h1V724zM616 691V676h1V691zM617 702V674h1V702zM618 703V678h1V703zM619 690V676h1V690zM620 709V673h1V709zM621 706V679h1V706zM622 724V676h1V724zM623 681V675h1V681zM624 698V674h1V698zM625 711V674h1V711zM626 682V675h1V682zM627 706V678h1V706zM628 686V677h1V686zM629 690V674h1V690zM630 704V674h1V704zM631 701V677h1V701zM632 699V678h1V699zM633 698V676h1V698zM634 696V675h1V696zM635 683V675h1V683zM636 700V672h1V700zM637 702V676h1V702zM638 684V678h1V684zM639 687V675h1V687zM640 709V678h1V709zM641 702V677h1V702zM642 685V675h1V685zM643 694V675h1V694zM644 683V675h1V683zM645 686V674h1V686zM646 682V676h1V682zM647 676V675h1V676zM648 681V673h1V681zM649 680V671h1V680zM651 689V675h1V689zM652 680V673h1V680zM653 685V675h1V685zM654 687V676h1V687zM655 692V675h1V683h1V692zM657 697V679h1V697zM659 709V676h1V709zM660 686V678h1V686zM661 694V675h1V694zM662 703V678h1V703zM663 686V678h1V686zM664 682V677h1V682zM665 692V675h1V692zM666 705V676h1V705zM667 692V676h1V692zM668 688V676h1V688zM669 687V677h1V687zM670 704V680h1V704zM671 688V677h1V688zM672 689V676h1V689zM673 706V675h1V706zM674 687V674h1V687zM675 688V675h1V688zM676 687V675h1V687zM677 699V676h1V699zM678 693V673h1V693zM679 702V676h1V702zM681 685V682h1V685zM682 683V676h1V683zM683 708V676h1V708zM684 712V675h1V712zM685 710V672h1V710zM686 698V674h1V698zM687 692V675h1V692zM688 689V676h1V689zM689 687V675h1V687zM690 689V673h1V689zM691 690V674h1V690zM692 685V678h1V685zM693 695V680h1V695zM694 688V680h1V688zM695 694V683h1V694zM696 690V677h1V690zM697 683V677h1V683zM698 688V675h1V688zM699 687V675h1V687zM700 679V676h1V674h1V679zM702 692V676h1V692zM703 707V678h1V707zM704 683V680h1V683zM705 677V674h1V677zM706 689V675h1V689zM707 684V676h1V684zM708 699V676h1V699zM709 679V677h1V679zM710 723V676h1V674h1V723zM712 689V675h1V689zM713 698V676h1V698zM714 701V676h1V701zM715 687V675h1V687zM716 689V679h1V689zM717 686V678h1V685h1V686zM719 688V677h1V688zM720 690V679h1V690zM721 684V675h1V684zM722 690V675h1V676h2V690zM725 705V673h1V705zM726 691V677h1V676h1V691zM728 705V673h1V705zM729 687V673h1V687zM730 710V675h1V710zM731 690V682h1V690zM732 685V676h1V685zM733 694V681h1V694zM735 692V677h1V692zM736 678V676h1V678zM737 700V675h1V700zM738 692V672h1V675h1V692zM740 694V677h1V694zM741 685V677h1V685zM742 697V678h1V697zM743 718V677h1V718zM744 695V678h1V695zM745 701V676h1V701zM746 724V674h1V676h1V724zM749 702V680h1V702zM750 697V681h1V697zM751 730V683h1V730zM752 733V679h1V733zM753 730V678h1V730zM754 707V681h1V707zM755 688V679h1V688zM756 714V676h1V714zM757 713V676h1V713zM758 691V676h1V691zM759 674V673h1V674zM760 683V675h1V683zM761 692V675h1V692zM762 693V673h1V680h1V693zM764 695V676h1V695zM765 686V677h1V674h1V686zM767 690V676h1V690zM768 689V674h1V689zM769 695V672h1V695zM770 692V681h1V692zM771 686V677h1V686zM772 692V676h1V692zM773 706V674h1V706zM774 684V673h1V684zM775 685V674h1V685zM776 694V675h1V694zM778 700V674h1V700zM779 690V674h1V690zM780 681V677h1V681zM781 716V679h1V716zM782 683V674h1V683zM783 690V674h1V690zM784 684V674h1V684zM785 681V675h1V681zM786 685V678h1V685zM790 695V676h1V695zM792 693V671h1V693zM793 678V672h1V678zM794 682V680h1V682zM795 706V673h1V706zM796 685V674h1V677h1V685zM798 691V673h1V691zM799 682V674h1V682zM803 682V675h1V682zM804 687V675h1V687zM805 698V674h1V698zM806 683V674h1V683zM807 684V673h1V684zM808 683V674h1V683zM810 699V671h1V699zM811 691V675h2V691zM813 685V677h1V685zM814 687V675h1V687zM815 698V677h1V698zM816 688V675h1V688zM818 695V672h1V695zM819 681V675h1V681zM820 683V676h1V683zM821 699V674h1V699zM822 681V678h1V681zM823 680V671h1V676h1V680zM825 688V673h1V688zM826 676V674h1V676zM827 682V674h1V682zM828 688V676h1V688zM829 689V676h1V689zM831 689V675h1V689zM832 680V674h1V680zM833 677V673h1V677zM834 682V675h1V682zM835 700V674h1V672h1V700zM837 676V673h1V676zM838 680V679h1V680zM839 708V672h1V708zM840 679V678h1V679zM841 682V670h1V682zM842 683V669h1V683zM843 704V672h1V704zM844 685V672h1V685zM845 697V678h1V697zM846 684V675h1V684zM848 694V672h1V673h1V694zM851 682V676h1V674h1V682zM853 701V671h1V701zM854 686V672h1V686zM855 681V675h1V681zM856 684V672h1V684zM857 691V675h1V691zM858 685V672h1V685zM859 701V674h1V701zM860 694V676h1V694zM861 693V682h1V693zM862 687V677h1V687zM863 703V673h1V703zM864 688V674h1V688zM865 710V676h1V710zM866 711V675h1V711zM867 685V674h1V685zM868 695V674h1V695zM869 682V675h1V682zM870 693V674h1V693zM871 685V679h1V685zM872 696V673h1V696zM873 683V670h1V683zM874 689V671h1V689zM875 681V671h1V681zM876 680V674h1V680zM877 688V673h1V688zM878 697V672h1V697zM879 687V673h1V687zM881 684V674h1V684zM882 694V674h1V694zM883 684V673h1V684z"/>
<path fill="#006400" d="M71 785V696h1V692h1V703h1V690h1V694h1V693h1V691h1V717h1V714h1V715h1V690h1V698h1V730h1V719h1V686h1V672h1V693h1V706h1V690h1V708h1V683h1V675h1V688h1V704h1V730h1V733h1V730h1V690h1V709h1V697h1V700h1V693h1V708h1V695h3V690h1V711h1V697h1V687h1V695h1V694h1V690h1V686h1V690h1V692h2V688h1V687h1V694h2V695h1V718h1V708h1V710h1V696h1V702h1V690h1V714h1V695h1V708h1V714h1V682h1V708h1V717h1V700h1V710h1V713h1V702h1V684h1V694h1V672h1V692h2V694h1V693h1V697h1V700h1V696h1V712h1V719h1V695h1V685h1V702h1V694h1V718h1V699h1V691h1V689h1V690h1V713h1V714h1V686h1V696h1V690h1V706h1V689h1V706h1V696h1V694h1V674h1V705h1V711h1V690h1V688h1V696h1V710h1V712h2V727h1V697h1V696h1V689h1V688h1V716h1V694h1V692h1V704h1V696h1V709h1V713h1V694h1V698h1V691h1V700h1V691h1V682h1V687h1V685h1V704h1V691h1V662h1V711h1V687h1V710h1V694h1V697h1V677h1V691h1V693h1V698h1V696h1V717h1V708h1V713h1V693h1V700h1V693h1V726h1V709h1V717h1V710h1V692h1V691h1V709h1V706h1V701h1V716h1V688h1V690h1V707h1V710h2V679h1V689h1V710h1V665h1V714h1V694h1V685h1V681h1V673h1V700h1V701h1V687h1V688h1V699h1V683h1V674h1V695h1V696h1V698h1V692h1V693h2V692h1V691h1V695h1V697h1V688h2V691h1V695h2V697h1V734h1V691h1V693h1V698h1V692h1V691h1V689h1V691h1V711h1V664h1V693h1V691h1V699h1V690h1V681h1V690h1V660h1V714h1V718h1V709h1V690h1V695h1V697h1V689h1V700h1V715h1V696h1V690h1V723h1V721h1V724h1V684h1V694h1V695h1V711h1V716h1V693h1V695h1V713h1V694h1V693h1V695h1V720h1V693h1V686h1V702h1V696h1V694h1V691h1V698h1V714h1V710h1V699h1V695h2V702h1V704h1V695h1V691h2V693h1V712h1V691h1V709h1V688h1V697h1V679h1V686h1V691h1V708h1V717h1V694h1V712h1V715h1V712h1V698h1V699h1V686h1V694h2V689h1V681h1V693h1V697h1V699h1V694h1V692h1V713h1V680h1V676h1V684h1V692h1V694h1V708h1V679h1V704h1V701h1V698h1V716h1V707h1V679h1V690h1V699h1V694h1V676h1V691h1V690h1V682h1V700h1V691h1V698h1V704h1V695h1V696h1V691h1V713h1V688h1V705h1V681h1V695h1V703h1V676h1V689h1V698h1V704h1V694h1V696h1V678h1V695h1V708h1V689h1V720h1V685h1V692h1V695h1V690h1V703h1V689h1V685h1V694h1V690h1V686h1V701h1V674h1V691h1V693h2V700h1V693h1V698h1V699h1V698h1V695h1V692h1V689h1V699h1V742h1V694h1V695h1V660h1V680h1V710h1V687h1V695h1V714h1V671h1V688h1V703h1V690h1V694h1V690h1V685h1V682h1V690h2V693h1V686h1V702h1V708h1V693h1V696h1V729h1V674h1V704h1V699h1V701h1V677h1V694h1V709h1V692h1V690h1V711h1V698h1V697h1V681h1V686h1V695h1V696h1V713h1V704h1V714h1V694h1V697h1V705h1V688h1V689h1V697h1V684h1V707h1V693h1V698h2V705h1V710h1V726h1V696h1V699h1V705h1V690h1V701h1V716h1V698h1V685h1V691h1V690h2V692h1V670h1V695h1V696h1V692h1V706h1V675h1V695h1V688h1V700h2V699h1V702h1V694h1V693h1V702h1V694h1V702h1V696h1V691h1V699h1V700h1V690h1V685h1V691h1V688h1V709h1V697h1V710h2V697h1V691h1V692h1V691h1V707h1V695h1V680h1V694h1V693h1V722h2V691h1V684h1V683h1V688h1V699h1V671h1V690h1V688h1V710h1V691h2V696h1V685h1V726h2V696h1V698h1V721h1V696h1V709h1V692h1V671h1V710h1V675h1V686h1V705h1V703h1V708h2V696h1V725h1V694h1V699h1V692h1V693h1V688h1V696h1V684h1V696h1V697h1V711h1V695h1V674h1V694h1V710h1V688h1V682h1V685h1V726h2V690h1V689h1V699h1V687h1V712h1V695h1V691h1V698h1V685h2V700h1V696h2V669h1V684h1V686h1V710h1V695h1V696h1V690h1V691h1V685h1V692h2V716h1V712h1V691h1V690h1V717h1V703h1V693h1V690h1V724h1V691h1V702h1V703h1V690h1V709h1V706h1V724h1V681h1V698h1V711h1V682h1V706h1V686h1V690h1V704h1V701h1V699h1V698h1V696h1V683h1V700h1V702h1V684h1V687h1V709h1V702h1V685h1V694h1V683h1V686h1V682h1V676h1V681h1V680h1V673h1V689h1V680h1V685h1V687h1V692h2V697h1V668h1V709h1V686h1V694h1V703h1V686h1V682h1V692h1V705h1V692h1V688h1V687h1V704h1V688h1V689h1V706h1V687h1V688h1V687h1V699h1V693h1V702h1V683h1V685h1V683h1V708h1V712h1V710h1V698h1V692h1V689h1V687h1V689h1V690h1V685h1V695h1V688h1V694h1V690h1V683h1V688h1V687h1V679h2V692h1V707h1V683h1V677h1V689h1V684h1V699h1V679h1V723h2V689h1V698h1V701h1V687h1V689h1V686h2V688h1V690h1V684h1V690h3V705h1V691h2V705h1V687h1V710h1V690h1V685h1V694h1V671h1V692h1V678h1V700h1V692h2V694h1V685h1V697h1V718h1V695h1V701h1V724h2V674h1V702h1V697h1V730h1V733h1V730h1V707h1V688h1V714h1V713h1V691h1V674h1V683h1V692h1V693h2V695h1V686h2V690h1V689h1V695h1V692h1V686h1V692h1V706h1V684h1V685h1V694h1V673h1V700h1V690h1V681h1V716h1V683h1V690h1V684h1V681h1V685h1V663h1V675h1V674h1V695h1V667h1V693h1V678h1V682h1V706h1V685h2V691h1V682h1V671h1V669h1V671h1V682h1V687h1V698h1V683h1V684h1V683h1V668h1V699h1V691h2V685h1V687h1V698h1V688h1V665h1V695h1V681h1V683h1V699h1V681h1V680h2V688h1V676h1V682h1V688h1V689h1V673h1V689h1V680h1V677h1V682h1V700h2V676h1V680h1V708h1V679h1V682h1V683h1V704h1V685h1V697h1V684h1V661h1V694h2V681h1V682h2V701h1V686h1V681h1V684h1V691h1V685h1V701h1V694h1V693h1V687h1V703h1V688h1V710h1V711h1V685h1V695h1V682h1V693h1V685h1V696h1V683h1V689h1V681h1V680h1V688h1V697h1V687h1V662h1V684h1V694h1V684h1V785z"/>
<rect x="71" y="659" width="814" height="1" fill="#ff0000"/>
<rect x="139" y="658" width="2" height="1" fill="#ff0000"/>
<rect x="66" y="658" width="1" height="120" fill="#000"/>
<rect x="58" y="777" width="9" height="1" fill="#000"/>
<text x="55" y="781.8" font-size="14.4" text-anchor="end" font-style="italic" font-weight="normal" fill="#000" >0</text>
<rect x="61" y="763" width="6" height="1" fill="#000"/>
<rect x="58" y="750" width="9" height="1" fill="#000"/>
<text x="55" y="754.8" font-size="14.4" text-anchor="end" font-style="italic" font-weight="normal" fill="#000" >100</text>
<rect x="61" y="737" width="6" height="1" fill="#000"/>
<rect x="58" y="724" width="9" height="1" fill="#000"/>
<text x="55" y="728.8" font-size="14.4" text-anchor="end" font-style="italic" font-weight="normal" fill="#000" >200</text>
<rect x="61" y="711" width="6" height="1" fill="#000"/>
<rect x="58" y="698" width="9" height="1" fill="#000"/>
<text x="55" y="702.8" font-size="14.4" text-anchor="end" font-style="italic" font-weight="normal" fill="#000" >300</text>
<rect x="61" y="685" width="6" height="1" fill="#000"/>
<rect x="58" y="672" width="9" height="1" fill="#000"/>
<text x="55" y="676.8" font-size="14.4" text-anchor="end" font-style="italic" font-weight="normal" fill="#000" >400</text>
<rect x="61" y="659" width="6" height="1" fill="#000"/>
<text x="0" y="0" font-size="16" text-anchor="middle" font-style="italic" font-weight="normal" fill="#000" transform="translate(22.2,717.5) rotate(-90) scale(0.905,1)">Current (mA)</text>
<rect x="897" y="659" width="1" height="119.29999999999995" fill="#000"/>
<rect x="897" y="777" width="9" height="1" fill="#000"/>
<text x="909" y="782" font-size="14" text-anchor="start" font-style="italic" font-weight="normal" fill="#000" >0</text>
<rect x="897" y="757" width="6" height="1" fill="#000"/>
<rect x="897" y="737" width="9" height="1" fill="#000"/>
<text x="909" y="742" font-size="14" text-anchor="start" font-style="italic" font-weight="normal" fill="#000" >0.1</text>
<rect x="897" y="717" width="6" height="1" fill="#000"/>
<rect x="897" y="698" width="9" height="1" fill="#000"/>
<text x="909" y="703" font-size="14" text-anchor="start" font-style="italic" font-weight="normal" fill="#000" >0.2</text>
<rect x="897" y="678" width="6" height="1" fill="#000"/>
<text x="0" y="0" font-size="16" text-anchor="middle" font-style="italic" font-weight="normal" fill="#000" transform="translate(936,718) rotate(90) scale(0.918,1)">Inj Rate(mA/sec)</text>
<text x="0" y="0" font-size="16" text-anchor="middle" font-style="italic" font-weight="normal" fill="#000" transform="translate(952,718.5) rotate(90) scale(0.895,1)">Charge(nC)</text>
<rect x="79" y="790" width="806" height="1" fill="#000"/>
<rect x="112" y="790" width="1" height="9" fill="#000"/>
<text x="111.5" y="810" font-size="10.8" text-anchor="middle" font-style="normal" font-weight="normal" fill="#000" >01:00:00</text>
<rect x="179" y="790" width="1" height="6" fill="#000"/>
<rect x="246" y="790" width="1" height="9" fill="#000"/>
<text x="245.5" y="810" font-size="10.8" text-anchor="middle" font-style="normal" font-weight="normal" fill="#000" >05:00:00</text>
<rect x="313" y="790" width="1" height="6" fill="#000"/>
<rect x="380" y="790" width="1" height="9" fill="#000"/>
<text x="379.5" y="810" font-size="10.8" text-anchor="middle" font-style="normal" font-weight="normal" fill="#000" >09:00:00</text>
<rect x="447" y="790" width="1" height="6" fill="#000"/>
<rect x="514" y="790" width="1" height="9" fill="#000"/>
<text x="513.5" y="810" font-size="10.8" text-anchor="middle" font-style="normal" font-weight="normal" fill="#000" >13:00:00</text>
<rect x="581" y="790" width="1" height="6" fill="#000"/>
<rect x="648" y="790" width="1" height="9" fill="#000"/>
<text x="647.5" y="810" font-size="10.8" text-anchor="middle" font-style="normal" font-weight="normal" fill="#000" >17:00:00</text>
<rect x="716" y="790" width="1" height="6" fill="#000"/>
<rect x="783" y="790" width="1" height="9" fill="#000"/>
<text x="782.5" y="810" font-size="10.8" text-anchor="middle" font-style="normal" font-weight="normal" fill="#000" >21:00:00</text>
<rect x="850" y="790" width="1" height="6" fill="#000"/>
<rect x="975" y="643" width="114" height="24" fill="#d9d9d9"/>
<rect x="975" y="643" width="114" height="1" fill="#ffffff"/>
<rect x="975" y="643" width="1" height="24" fill="#ffffff"/>
<rect x="976" y="644" width="112" height="1" fill="#828282"/>
<rect x="976" y="644" width="1" height="22" fill="#828282"/>
<rect x="977" y="665" width="111" height="1" fill="#ffffff"/>
<rect x="1087" y="645" width="1" height="21" fill="#ffffff"/>
<rect x="976" y="666" width="113" height="1" fill="#828282"/>
<rect x="1088" y="644" width="1" height="23" fill="#828282"/>
<text x="1031.5" y="659" font-size="16" text-anchor="middle" font-style="italic" font-weight="normal" fill="#000" stroke="#000" stroke-width="0.3">CLOSE</text>
<rect x="975" y="667" width="114" height="24" fill="#f0f0f0"/>
<rect x="975" y="667" width="113" height="2" fill="#9a9a9a"/>
<rect x="975" y="667" width="2" height="23" fill="#9a9a9a"/>
<rect x="977" y="669" width="110" height="20" fill="#fff"/>
<text x="1032" y="683.1" font-size="16" text-anchor="middle" font-style="italic" font-weight="normal" fill="#000" stroke="#000" stroke-width="0.3">5.000Hz</text>
<rect x="974" y="693" width="20" height="20" fill="#ff0000"/>
<rect x="974" y="693" width="20" height="1" fill="#ff8080"/>
<rect x="974" y="693" width="1" height="20" fill="#ff8080"/>
<rect x="975" y="694" width="18" height="1" fill="#ff8080"/>
<rect x="975" y="694" width="1" height="18" fill="#ff8080"/>
<rect x="975" y="712" width="19" height="1" fill="#990000"/>
<rect x="993" y="694" width="1" height="19" fill="#990000"/>
<rect x="976" y="711" width="17" height="1" fill="#990000"/>
<rect x="992" y="695" width="1" height="17" fill="#990000"/>
<text x="1042" y="707.8" font-size="16" text-anchor="middle" font-style="italic" font-weight="normal" fill="#000" stroke="#000" stroke-width="0.3">449.06mA</text>
<rect x="974" y="717" width="20" height="20" fill="#006400"/>
<rect x="974" y="717" width="20" height="1" fill="#7fb27f"/>
<rect x="974" y="717" width="1" height="20" fill="#7fb27f"/>
<rect x="975" y="718" width="18" height="1" fill="#7fb27f"/>
<rect x="975" y="718" width="1" height="18" fill="#7fb27f"/>
<rect x="975" y="736" width="19" height="1" fill="#003c00"/>
<rect x="993" y="718" width="1" height="19" fill="#003c00"/>
<rect x="976" y="735" width="17" height="1" fill="#003c00"/>
<rect x="992" y="719" width="1" height="17" fill="#003c00"/>
<text x="1042" y="731.8" font-size="16" text-anchor="middle" font-style="italic" font-weight="normal" fill="#000" stroke="#000" stroke-width="0.3">----mA/s</text>
<rect x="974" y="741" width="20" height="20" fill="#0000ff"/>
<rect x="974" y="741" width="20" height="1" fill="#8080ff"/>
<rect x="974" y="741" width="1" height="20" fill="#8080ff"/>
<rect x="975" y="742" width="18" height="1" fill="#8080ff"/>
<rect x="975" y="742" width="1" height="18" fill="#8080ff"/>
<rect x="975" y="760" width="19" height="1" fill="#000099"/>
<rect x="993" y="742" width="1" height="19" fill="#000099"/>
<rect x="976" y="759" width="17" height="1" fill="#000099"/>
<rect x="992" y="743" width="1" height="17" fill="#000099"/>
<text x="1042" y="755.8" font-size="16" text-anchor="middle" font-style="italic" font-weight="normal" fill="#000" stroke="#000" stroke-width="0.3">----nC</text>
<rect x="0" y="829" width="5" height="1" fill="#828282"/>
<rect x="0" y="830" width="5" height="1" fill="#fff"/>
<rect x="228" y="829" width="865" height="1" fill="#828282"/>
<rect x="228" y="830" width="864" height="1" fill="#fff"/>
<rect x="1" y="1014" width="1092" height="1" fill="#828282"/>
<rect x="0" y="1015" width="1093" height="1" fill="#fff"/>
<rect x="0" y="830" width="1" height="185" fill="#fff"/>
<rect x="1092" y="829" width="1" height="186" fill="#828282"/>
<text x="0" y="0" font-size="19.8" text-anchor="start" font-style="italic" font-weight="bold" fill="#000000" transform="translate(10.5,834.8) scale(0.939,1)">AR&#160;&#160;(User Run (Top-up))</text>
<rect x="61" y="847" width="833" height="138" fill="#e6e6e6"/>
<rect x="61" y="847" width="833" height="1" fill="#000"/>
<rect x="61" y="847" width="1" height="138" fill="#000"/>
<rect x="62" y="848" width="831" height="1" fill="#2e2e2e"/>
<rect x="62" y="848" width="1" height="136" fill="#2e2e2e"/>
<rect x="63" y="849" width="830" height="135" fill="#fff"/>
<path d="M63 975.5H892" stroke="#a3a3a3" stroke-width="1" stroke-dasharray="1 1" fill="none"/>
<path d="M63 951.5H892" stroke="#a3a3a3" stroke-width="1" stroke-dasharray="1 1" fill="none"/>
<path d="M63 927.5H892" stroke="#a3a3a3" stroke-width="1" stroke-dasharray="1 1" fill="none"/>
<path d="M63 904.5H892" stroke="#a3a3a3" stroke-width="1" stroke-dasharray="1 1" fill="none"/>
<path d="M63 880.5H892" stroke="#a3a3a3" stroke-width="1" stroke-dasharray="1 1" fill="none"/>
<path d="M63 857.5H892" stroke="#a3a3a3" stroke-width="1" stroke-dasharray="1 1" fill="none"/>
<path d="M104.5 849V983" stroke="#a3a3a3" stroke-width="1" stroke-dasharray="1 1" fill="none"/>
<path d="M172.5 849V983" stroke="#a3a3a3" stroke-width="1" stroke-dasharray="1 1" fill="none"/>
<path d="M240.5 849V983" stroke="#a3a3a3" stroke-width="1" stroke-dasharray="1 1" fill="none"/>
<path d="M307.5 849V983" stroke="#a3a3a3" stroke-width="1" stroke-dasharray="1 1" fill="none"/>
<path d="M375.5 849V983" stroke="#a3a3a3" stroke-width="1" stroke-dasharray="1 1" fill="none"/>
<path d="M443.5 849V983" stroke="#a3a3a3" stroke-width="1" stroke-dasharray="1 1" fill="none"/>
<path d="M511.5 849V983" stroke="#a3a3a3" stroke-width="1" stroke-dasharray="1 1" fill="none"/>
<path d="M578.5 849V983" stroke="#a3a3a3" stroke-width="1" stroke-dasharray="1 1" fill="none"/>
<path d="M646.5 849V983" stroke="#a3a3a3" stroke-width="1" stroke-dasharray="1 1" fill="none"/>
<path d="M714.5 849V983" stroke="#a3a3a3" stroke-width="1" stroke-dasharray="1 1" fill="none"/>
<path d="M782.5 849V983" stroke="#a3a3a3" stroke-width="1" stroke-dasharray="1 1" fill="none"/>
<path d="M849.5 849V983" stroke="#a3a3a3" stroke-width="1" stroke-dasharray="1 1" fill="none"/>
<path fill="#0000ff" d="M63 955V858h1V955zM64 943V858h1V943zM65 949V860h1V949zM66 948V858h2V948zM68 949V859h1V949zM69 945V859h1V945zM70 949V859h1V949zM71 948V859h1V948zM72 956V859h1V956zM73 950V860h1V950zM74 947V859h1V947zM75 954V858h1V954zM76 947V860h1V947zM77 945V858h1V945zM78 946V859h1V946zM79 949V858h1V949zM80 946V858h1V946zM81 948V858h1V948zM82 945V858h2V945zM84 948V859h1V948zM85 946V858h1V946zM86 944V859h2V944zM88 945V860h1V945zM89 948V859h1V948zM90 941V858h1V941zM91 944V859h1V944zM92 948V861h1V948zM93 942V858h1V942zM94 943V859h1V943zM95 946V861h1V946zM96 945V859h1V945zM97 944V859h1V944zM98 945V859h1V945zM99 935V859h1V935zM100 946V859h1V946zM101 939V860h1V939zM102 940V859h1V940zM103 946V859h1V946zM104 945V859h1V945zM105 947V859h1V947zM106 946V859h1V946zM107 949V860h1V949zM108 950V859h1V950zM109 954V860h1V954zM110 956V858h1V956zM111 950V859h1V950zM112 951V860h1V951zM113 948V860h1V948zM114 946V858h1V946zM115 948V858h1V948zM116 946V858h1V946zM117 945V858h1V945zM118 944V861h1V858h1V944zM120 938V858h1V938zM121 943V858h1V943zM122 939V858h1V939zM123 943V858h1V943zM124 936V859h1V936zM125 938V858h1V938zM126 939V858h1V939zM127 937V859h1V937zM128 939V859h1V939zM129 944V858h1V944zM130 946V859h1V946zM131 940V859h1V940zM132 944V859h1V944zM133 947V860h1V947zM134 942V859h1V942zM135 951V861h1V951zM136 947V859h1V947zM137 951V859h1V951zM138 949V859h1V949zM139 955V859h1V955zM140 953V858h1V859h1V953zM142 951V858h1V951zM143 962V858h1V962zM144 960V858h1V960zM145 957V858h1V957zM146 958V859h1V958zM147 957V858h1V957zM148 955V858h1V859h1V955zM150 956V859h1V956zM151 960V859h1V960zM152 955V859h1V955zM153 956V859h1V861h1V860h1V861h1V956zM157 952V860h1V952zM158 953V860h2V953zM160 954V862h1V954zM161 953V859h1V953zM162 955V860h1V955zM163 949V860h1V949zM164 947V860h1V947zM165 948V859h1V948zM166 949V859h1V949zM167 946V859h1V946zM168 955V859h1V955zM169 947V860h1V947zM170 951V859h1V951zM171 948V859h1V948zM172 952V858h1V952zM173 950V858h2V950zM175 943V858h1V943zM176 946V859h1V861h1V946zM178 948V859h1V948zM179 942V860h1V942zM180 949V859h1V949zM181 948V859h1V948zM182 944V859h3V944zM185 946V861h1V946zM186 947V859h1V947zM187 950V859h1V950zM188 945V860h1V945zM189 947V860h1V947zM190 946V860h1V946zM191 949V863h1V949zM192 947V860h1V947zM193 948V860h1V948zM194 943V860h1V943zM195 944V862h1V944zM196 943V860h1V943zM197 945V860h1V945zM198 944V859h1V860h2V944zM201 945V860h1V945zM202 943V860h1V943zM203 941V859h1V941zM204 945V859h1V945zM205 949V859h1V949zM206 944V859h1V944zM207 945V859h1V945zM208 944V859h1V861h1V944zM210 949V859h1V949zM211 947V859h1V947zM212 949V859h1V949zM213 950V858h1V861h1V859h1V950zM216 947V859h1V947zM217 948V859h1V948zM218 949V859h1V949zM219 947V858h1V859h1V947zM221 946V858h1V946zM222 947V859h1V947zM223 949V858h1V949zM224 946V860h1V858h1V946zM226 948V858h1V948zM227 947V858h1V947zM228 949V858h1V949zM229 942V858h1V942zM230 947V858h1V947zM231 944V859h1V944zM232 945V858h1V945zM233 946V858h2V859h1V946zM236 944V859h1V944zM237 949V859h1V949zM238 943V858h1V860h1V943zM240 941V858h1V941zM241 942V858h1V942zM242 947V858h1V947zM243 944V859h1V944zM244 946V859h1V946zM245 939V859h1V939zM246 941V858h2V941zM248 943V859h1V943zM249 940V858h1V940zM250 941V858h1V860h1V941zM252 944V860h1V944zM253 939V858h1V939zM254 945V858h1V945zM255 939V858h1V939zM256 934V858h1V934zM257 939V858h1V939zM258 938V860h1V938zM259 940V859h1V940zM260 942V859h1V942zM261 940V859h1V940zM262 941V859h1V941zM263 943V861h1V943zM264 945V861h1V945zM265 942V859h1V942zM266 943V859h1V943zM267 936V859h1V936zM268 941V859h1V941zM269 938V859h1V938zM270 941V859h1V941zM271 939V859h1V939zM272 941V859h1V941zM273 939V859h1V939zM274 937V859h1V937zM275 944V860h1V944zM276 939V860h1V939zM277 940V860h1V940zM278 938V860h1V938zM279 942V862h1V860h1V942zM281 947V860h1V947zM282 948V860h1V948zM283 941V862h1V860h1V941zM285 942V859h1V942zM286 946V860h2V946zM288 940V859h2V940zM290 943V859h1V943zM291 941V859h1V941zM292 944V860h1V944zM293 941V859h1V941zM294 943V860h1V943zM295 939V860h1V939zM296 941V860h2V941zM298 939V860h1V939zM299 942V859h1V942zM300 943V860h1V943zM301 940V859h1V940zM302 939V860h1V939zM303 942V859h2V942zM305 946V858h1V946zM306 944V858h1V944zM307 942V858h1V942zM308 941V858h1V941zM309 944V859h1V944zM310 949V859h1V949zM311 944V859h1V944zM312 945V859h1V945zM313 946V860h1V946zM314 945V859h1V945zM315 950V860h1V950zM316 945V860h1V945zM317 947V859h1V947zM318 949V861h1V949zM319 947V859h1V947zM320 944V858h1V944zM321 949V858h1V949zM322 946V860h1V858h1V946zM324 944V859h1V944zM325 945V858h1V945zM326 947V861h1V947zM327 948V858h1V948zM328 947V858h1V947zM329 948V858h1V948zM330 947V858h1V947zM331 946V858h1V946zM332 948V858h1V948zM333 947V858h1V947zM334 953V858h1V953zM335 945V858h1V945zM336 949V859h1V858h1V859h1V949zM339 952V859h1V952zM340 955V860h1V955zM341 951V860h1V951zM342 952V860h1V952zM343 953V860h1V953zM344 956V860h1V956zM345 951V860h1V951zM346 956V860h1V956zM347 958V860h1V958zM348 955V860h1V955zM349 960V860h1V960zM350 959V860h1V959zM351 958V861h1V958zM352 960V860h1V960zM353 957V860h1V957zM354 956V860h1V956zM355 964V860h1V964zM356 960V860h1V960zM357 964V860h1V964zM358 962V860h1V962zM359 965V861h1V965zM360 963V860h1V963zM361 958V860h1V958zM362 960V860h1V960zM363 961V860h1V961zM364 958V860h1V958zM365 957V860h1V957zM366 964V860h1V964zM367 958V860h1V958zM368 955V860h1V955zM369 954V861h1V954zM370 959V860h1V959zM371 956V860h1V956zM372 958V860h1V958zM373 959V860h1V959zM374 955V859h1V955zM375 953V859h1V953zM376 952V859h1V952zM377 956V859h1V956zM378 955V861h1V955zM379 953V859h1V953zM380 961V859h1V961zM381 951V859h1V951zM382 952V860h1V952zM383 950V859h1V950zM384 949V859h1V949zM385 944V860h1V944zM386 946V862h1V946zM387 947V860h1V947zM388 949V860h1V949zM389 945V859h1V945zM390 948V859h1V948zM391 946V861h1V946zM392 952V859h1V952zM393 948V861h1V948zM394 945V859h1V945zM395 947V859h2V947zM397 945V859h1V945zM398 948V859h1V948zM399 950V859h1V950zM400 940V859h1V940zM401 948V858h1V948zM402 945V861h1V945zM403 956V859h1V956zM404 945V859h1V945zM405 944V859h1V944zM406 949V859h1V949zM407 944V859h1V944zM408 945V859h1V945zM409 949V859h1V949zM410 946V859h3V946zM413 948V859h1V948zM414 947V861h2V859h1V947zM417 950V859h1V950zM418 941V861h1V941zM419 944V859h1V944zM420 947V860h1V947zM421 942V860h1V859h1V942zM423 952V859h1V952zM424 944V859h1V944zM425 942V862h1V942zM426 945V859h1V945zM427 940V860h1V940zM428 943V860h1V943zM429 947V860h1V947zM430 943V861h1V859h1V943zM432 945V860h2V945zM434 944V860h1V944zM435 941V860h1V941zM436 945V860h1V945zM437 944V859h2V944zM439 942V859h1V942zM440 951V859h1V951zM441 943V859h1V943zM442 942V859h1V942zM443 941V859h1V941zM444 942V858h1V942zM445 944V859h1V944zM446 945V858h1V859h2V945zM449 946V858h2V946zM451 952V858h1V952zM452 939V859h1V939zM453 946V858h1V946zM454 947V858h1V947zM455 945V859h1V945zM456 948V859h1V948zM457 946V859h1V946zM458 947V859h1V947zM459 946V859h1V946zM460 951V859h1V951zM461 949V859h1V949zM462 948V859h1V948zM463 947V860h1V947zM464 949V859h1V949zM465 953V859h1V953zM466 951V859h1V951zM467 952V861h1V952zM468 957V859h1V957zM469 953V859h1V953zM470 951V860h1V951zM471 950V859h1V950zM472 955V859h1V955zM473 947V859h1V947zM474 944V858h1V944zM475 943V858h1V943zM476 947V860h1V947zM477 943V858h1V943zM478 946V859h1V946zM479 937V858h1V937zM480 941V858h1V941zM481 938V859h1V938zM482 939V876h1V877h1V939zM484 940V878h1V940zM485 942V878h1V942zM486 937V877h2V876h1V864h1V937zM490 866V859h6V866zM496 970V859h1V970zM497 968V859h2V968zM499 970V859h1V864h1V970zM501 969V860h1V969zM502 970V859h1V970zM503 965V860h1V965zM504 974V862h1V974zM505 965V860h1V859h1V965zM507 969V859h1V969zM508 967V861h1V967zM509 966V859h1V858h1V966zM511 967V860h1V967zM512 966V859h1V966zM513 965V858h1V965zM514 967V858h1V967zM515 963V858h1V861h1V963zM517 962V858h1V962zM518 965V860h1V965zM519 964V858h2V964zM521 961V860h1V858h1V961zM523 962V858h1V962zM524 960V858h1V960zM525 969V858h1V969zM526 962V859h1V962zM527 959V858h1V959zM528 960V861h1V858h1V960zM530 964V859h2V964zM532 958V859h1V958zM533 960V858h1V960zM534 956V859h1V956zM535 960V859h1V858h1V960zM537 958V858h1V958zM538 961V858h1V961zM539 957V859h1V957zM540 959V860h1V959zM541 960V858h1V960zM542 957V859h1V957zM543 961V859h2V961zM545 957V859h1V957zM546 956V860h1V956zM547 960V859h1V960zM548 959V860h1V959zM549 957V861h1V957zM550 958V860h2V859h1V958zM553 960V859h1V960zM554 967V859h1V967zM555 962V860h1V962zM556 961V859h1V961zM557 960V859h2V960zM559 961V859h1V961zM560 959V859h1V959zM561 956V859h1V956zM562 957V860h1V957zM563 958V860h1V958zM564 961V859h1V961zM565 956V860h1V956zM566 959V860h1V959zM567 958V862h1V958zM568 961V860h2V961zM570 957V860h1V957zM571 958V859h1V958zM572 953V859h1V953zM573 958V859h1V858h1V958zM575 956V858h1V956zM576 961V859h1V961zM577 957V859h2V858h1V957zM580 959V859h1V959zM581 962V858h1V962zM582 956V859h1V956zM583 962V859h1V962zM584 958V860h1V958zM585 961V860h1V961zM586 956V858h1V956zM587 955V859h1V955zM588 958V859h1V958zM589 960V859h1V960zM590 962V859h1V962zM591 958V859h1V958zM592 959V859h1V959zM593 956V859h1V956zM594 958V859h1V958zM595 959V861h1V859h1V959zM597 960V860h1V960zM598 958V859h1V958zM599 963V859h1V963zM600 964V860h1V964zM601 963V859h1V860h1V963zM603 962V860h1V861h1V962zM605 954V860h1V954zM606 968V859h1V968zM607 957V859h1V957zM608 960V859h1V960zM609 957V859h1V957zM610 955V859h2V955zM612 956V858h1V956zM613 952V859h2V952zM615 951V859h1V951zM616 948V859h1V948zM617 953V859h1V953zM618 948V859h1V948zM619 949V859h1V949zM620 951V862h1V951zM621 946V860h1V946zM622 947V859h1V947zM623 950V859h1V950zM624 948V859h1V948zM625 941V860h1V941zM626 938V860h1V938zM627 942V860h1V942zM628 945V859h1V945zM629 949V860h1V949zM630 947V861h1V947zM631 945V861h1V945zM632 944V859h1V944zM633 945V859h1V945zM634 943V858h1V943zM635 946V859h2V946zM637 944V859h1V944zM638 946V858h1V946zM639 945V858h1V945zM640 948V858h1V948zM641 951V859h1V951zM642 952V860h1V952zM643 944V861h1V944zM644 949V859h1V949zM645 959V859h1V959zM646 954V860h2V954zM648 951V860h1V951zM649 950V860h1V950zM650 955V859h1V955zM651 948V860h1V948zM652 952V859h1V952zM653 953V859h1V953zM654 951V859h1V951zM655 955V859h1V858h1V859h1V955zM658 952V858h1V952zM659 953V859h1V953zM660 954V859h2V954zM662 956V860h1V956zM663 952V859h1V952zM664 948V859h1V948zM665 958V859h1V958zM666 951V859h1V951zM667 953V861h1V953zM668 949V860h1V949zM669 953V860h1V953zM670 950V862h1V950zM671 949V860h1V949zM672 952V860h1V952zM673 949V862h1V949zM674 950V860h1V950zM675 945V860h1V945zM676 950V860h2V950zM678 947V859h2V947zM680 950V859h1V950zM681 948V858h1V948zM682 943V858h1V943zM683 945V858h1V945zM684 944V858h2V944zM686 937V862h1V937zM687 943V859h1V943zM688 940V858h1V940zM689 943V859h1V943zM690 942V859h1V942zM691 943V859h1V943zM692 939V859h1V939zM693 941V859h1V941zM694 943V859h1V943zM695 945V862h1V945zM696 942V859h1V942zM697 945V859h1V945zM698 946V860h1V946zM699 941V860h1V941zM700 945V859h1V945zM701 940V860h1V940zM702 950V860h1V950zM703 941V859h1V941zM704 942V859h1V942zM705 939V859h1V939zM706 940V859h1V940zM707 943V859h1V943zM708 941V859h2V941zM710 947V859h1V947zM711 942V861h1V942zM712 935V859h1V935zM713 943V859h1V943zM714 940V859h1V940zM715 939V859h2V939zM717 940V858h2V940zM719 945V858h1V945zM720 943V860h1V943zM721 944V858h1V944zM722 946V858h2V946zM724 947V858h2V947zM726 951V858h1V951zM727 948V859h1V948zM728 950V858h1V950zM729 956V860h1V956zM730 954V858h1V954zM731 952V858h1V952zM732 945V858h1V945zM733 948V858h2V948zM735 951V858h1V951zM736 949V859h1V949zM737 950V858h1V950zM738 953V858h1V953zM739 950V859h1V950zM740 952V858h1V952zM741 948V860h1V948zM742 952V858h1V952zM743 950V858h1V950zM744 951V858h1V951zM745 947V858h1V947zM746 949V858h1V949zM747 946V858h1V946zM748 949V858h1V949zM749 951V859h1V951zM750 950V858h1V950zM751 949V858h1V949zM752 948V859h1V948zM753 952V859h1V952zM754 956V859h1V956zM755 953V860h1V859h1V953zM757 950V859h1V950zM758 957V860h1V957zM759 952V859h1V952zM760 954V859h1V954zM761 956V859h1V956zM762 951V859h1V951zM763 955V861h1V859h1V955zM765 957V860h1V957zM766 960V862h1V960zM767 964V859h1V964zM768 954V859h1V954zM769 957V859h1V957zM770 955V860h1V955zM771 958V862h1V958zM772 955V859h1V860h1V955zM774 957V860h1V957zM775 958V859h1V860h1V958zM777 954V859h1V954zM778 968V859h1V968zM779 958V860h1V958zM780 957V860h1V957zM781 962V859h1V962zM782 957V859h1V957zM783 958V861h1V958zM784 955V859h1V955zM785 960V859h1V960zM786 953V860h1V953zM787 956V860h1V956zM788 965V860h1V965zM789 955V860h1V955zM790 959V860h1V959zM791 955V863h1V955zM792 960V860h1V960zM793 957V860h1V957zM794 956V859h1V956zM795 958V859h1V958zM796 959V861h1V959zM797 956V859h2V956zM799 955V858h1V955zM800 956V858h1V956zM801 958V858h1V958zM802 956V858h1V956zM803 957V858h1V957zM804 956V858h1V956zM805 955V858h1V955zM806 958V859h1V958zM807 954V858h1V954zM808 956V860h1V956zM809 959V858h1V959zM810 954V859h1V954zM811 956V858h1V956zM812 953V859h1V953zM813 955V858h1V955zM814 953V861h1V953zM815 955V859h1V955zM816 952V861h1V952zM817 954V859h1V954zM818 959V860h1V959zM819 954V860h1V954zM820 957V859h1V957zM821 956V859h1V956zM822 955V859h1V955zM823 954V859h1V954zM824 952V860h1V952zM825 961V859h1V961zM826 958V860h1V958zM827 956V862h1V956zM828 954V860h1V954zM829 958V859h1V958zM830 954V862h1V859h1V954zM832 953V859h1V953zM833 952V859h1V952zM834 953V859h1V953zM835 956V859h1V956zM836 950V859h1V950zM837 947V859h4V947zM841 953V860h1V953zM842 956V859h2V956zM844 959V859h1V959zM845 957V859h1V957zM846 955V861h1V955zM847 957V859h1V957zM848 965V860h1V965zM849 956V859h1V956zM850 952V860h1V952zM851 955V860h1V859h1V955zM853 954V859h1V860h1V954zM855 949V860h1V949zM856 951V860h1V951zM857 954V860h1V954zM858 946V860h1V946zM859 943V860h1V943zM860 947V860h1V947zM861 944V860h1V944zM862 947V859h1V947zM863 954V860h1V954zM864 946V860h1V946zM865 944V859h2V944zM867 946V859h1V946zM868 942V859h1V942zM869 953V859h1V953zM870 945V858h1V945zM871 944V859h1V944zM872 946V858h1V946zM873 945V858h1V945zM874 944V859h1V944zM875 941V861h1V859h1V941zM877 940V861h1V940zM878 943V859h1V943zM879 940V859h1V940zM880 942V860h1V942zM881 939V860h1V939zM882 943V860h1V943zM883 953V860h1V953z"/>
<path fill="#006400" d="M63 983V955h1V943h1V949h1V948h2V949h1V945h1V949h1V948h1V956h1V950h1V947h1V954h1V947h1V945h1V946h1V949h1V946h1V948h1V945h2V948h1V946h1V944h2V945h1V948h1V941h1V944h1V948h1V942h1V943h1V946h1V945h1V944h1V945h1V935h1V946h1V939h1V940h1V946h1V945h1V947h1V946h1V949h1V950h1V954h1V956h1V950h1V951h1V948h1V946h1V948h1V946h1V945h1V944h2V938h1V943h1V939h1V943h1V936h1V938h1V939h1V937h1V939h1V944h1V946h1V940h1V944h1V947h1V942h1V951h1V947h1V951h1V949h1V955h1V953h2V951h1V962h1V960h1V957h1V958h1V957h1V955h2V956h1V960h1V955h1V956h4V952h1V953h2V954h1V953h1V955h1V949h1V947h1V948h1V949h1V946h1V955h1V947h1V951h1V948h1V952h1V950h2V943h1V946h2V948h1V942h1V949h1V948h1V944h3V946h1V947h1V950h1V945h1V947h1V946h1V949h1V947h1V948h1V943h1V944h1V943h1V945h1V944h3V945h1V943h1V941h1V945h1V949h1V944h1V945h1V944h2V949h1V947h1V949h1V950h3V947h1V948h1V949h1V947h2V946h1V947h1V949h1V946h2V948h1V947h1V949h1V942h1V947h1V944h1V945h1V946h3V944h1V949h1V943h2V941h1V942h1V947h1V944h1V946h1V939h1V941h2V943h1V940h1V941h2V944h1V939h1V945h1V939h1V934h1V939h1V938h1V940h1V942h1V940h1V941h1V943h1V945h1V942h1V943h1V936h1V941h1V938h1V941h1V939h1V941h1V939h1V937h1V944h1V939h1V940h1V938h1V942h2V947h1V948h1V941h2V942h1V946h2V940h2V943h1V941h1V944h1V941h1V943h1V939h1V941h2V939h1V942h1V943h1V940h1V939h1V942h2V946h1V944h1V942h1V941h1V944h1V949h1V944h1V945h1V946h1V945h1V950h1V945h1V947h1V949h1V947h1V944h1V949h1V946h2V944h1V945h1V947h1V948h1V947h1V948h1V947h1V946h1V948h1V947h1V953h1V945h1V949h3V952h1V955h1V951h1V952h1V953h1V956h1V951h1V956h1V958h1V955h1V960h1V959h1V958h1V960h1V957h1V956h1V964h1V960h1V964h1V962h1V965h1V963h1V958h1V960h1V961h1V958h1V957h1V964h1V958h1V955h1V954h1V959h1V956h1V958h1V959h1V955h1V953h1V952h1V956h1V955h1V953h1V961h1V951h1V952h1V950h1V949h1V944h1V946h1V947h1V949h1V945h1V948h1V946h1V952h1V948h1V945h1V947h2V945h1V948h1V950h1V940h1V948h1V945h1V956h1V945h1V944h1V949h1V944h1V945h1V949h1V946h3V948h1V947h3V950h1V941h1V944h1V947h1V942h2V952h1V944h1V942h1V945h1V940h1V943h1V947h1V943h2V945h2V944h1V941h1V945h1V944h2V942h1V951h1V943h1V942h1V941h1V942h1V944h1V945h3V946h2V952h1V939h1V946h1V947h1V945h1V948h1V946h1V947h1V946h1V951h1V949h1V948h1V947h1V949h1V953h1V951h1V952h1V957h1V953h1V951h1V950h1V955h1V947h1V944h1V943h1V947h1V943h1V946h1V937h1V941h1V938h1V939h2V940h1V942h1V937h4V983zM496 983V970h1V968h2V970h2V969h1V970h1V965h1V974h1V965h2V969h1V967h1V966h2V967h1V966h1V965h1V967h1V963h2V962h1V965h1V964h2V961h2V962h1V960h1V969h1V962h1V959h1V960h2V964h2V958h1V960h1V956h1V960h2V958h1V961h1V957h1V959h1V960h1V957h1V961h2V957h1V956h1V960h1V959h1V957h1V958h3V960h1V967h1V962h1V961h1V960h2V961h1V959h1V956h1V957h1V958h1V961h1V956h1V959h1V958h1V961h2V957h1V958h1V953h1V958h2V956h1V961h1V957h3V959h1V962h1V956h1V962h1V958h1V961h1V956h1V955h1V958h1V960h1V962h1V958h1V959h1V956h1V958h1V959h2V960h1V958h1V963h1V964h1V963h2V962h2V954h1V968h1V957h1V960h1V957h1V955h2V956h1V952h2V951h1V948h1V953h1V948h1V949h1V951h1V946h1V947h1V950h1V948h1V941h1V938h1V942h1V945h1V949h1V947h1V945h1V944h1V945h1V943h1V946h2V944h1V946h1V945h1V948h1V951h1V952h1V944h1V949h1V959h1V954h2V951h1V950h1V955h1V948h1V952h1V953h1V951h1V955h3V952h1V953h1V954h2V956h1V952h1V948h1V958h1V951h1V953h1V949h1V953h1V950h1V949h1V952h1V949h1V950h1V945h1V950h2V947h2V950h1V948h1V943h1V945h1V944h2V937h1V943h1V940h1V943h1V942h1V943h1V939h1V941h1V943h1V945h1V942h1V945h1V946h1V941h1V945h1V940h1V950h1V941h1V942h1V939h1V940h1V943h1V941h2V947h1V942h1V935h1V943h1V940h1V939h2V940h2V945h1V943h1V944h1V946h2V947h2V951h1V948h1V950h1V956h1V954h1V952h1V945h1V948h2V951h1V949h1V950h1V953h1V950h1V952h1V948h1V952h1V950h1V951h1V947h1V949h1V946h1V949h1V951h1V950h1V949h1V948h1V952h1V956h1V953h2V950h1V957h1V952h1V954h1V956h1V951h1V955h2V957h1V960h1V964h1V954h1V957h1V955h1V958h1V955h2V957h1V958h2V954h1V968h1V958h1V957h1V962h1V957h1V958h1V955h1V960h1V953h1V956h1V965h1V955h1V959h1V955h1V960h1V957h1V956h1V958h1V959h1V956h2V955h1V956h1V958h1V956h1V957h1V956h1V955h1V958h1V954h1V956h1V959h1V954h1V956h1V953h1V955h1V953h1V955h1V952h1V954h1V959h1V954h1V957h1V956h1V955h1V954h1V952h1V961h1V958h1V956h1V954h1V958h1V954h2V953h1V952h1V953h1V956h1V950h1V947h4V953h1V956h2V959h1V957h1V955h1V957h1V965h1V956h1V952h1V955h2V954h2V949h1V951h1V954h1V946h1V943h1V947h1V944h1V947h1V954h1V946h1V944h2V946h1V942h1V953h1V945h1V944h1V946h1V945h1V944h1V941h2V940h1V943h1V940h1V942h1V939h1V943h1V953h1V983z"/>
<rect x="490" y="974" width="6" height="3" fill="#006400"/>
<rect x="690" y="942" width="1" height="33" fill="#0000ff"/>
<rect x="693" y="942" width="1" height="33" fill="#0000ff"/>
<rect x="63" y="857" width="822" height="1" fill="#ff0000"/>
<rect x="58" y="857" width="1" height="119" fill="#000"/>
<rect x="50" y="975" width="9" height="1" fill="#000"/>
<text x="46" y="979.8" font-size="14.4" text-anchor="end" font-style="italic" font-weight="normal" fill="#000" >0</text>
<rect x="53" y="951" width="6" height="1" fill="#000"/>
<rect x="50" y="927" width="9" height="1" fill="#000"/>
<text x="46" y="931.8" font-size="14.4" text-anchor="end" font-style="italic" font-weight="normal" fill="#000" >20</text>
<rect x="53" y="904" width="6" height="1" fill="#000"/>
<rect x="50" y="880" width="9" height="1" fill="#000"/>
<text x="46" y="884.8" font-size="14.4" text-anchor="end" font-style="italic" font-weight="normal" fill="#000" >40</text>
<rect x="53" y="857" width="6" height="1" fill="#000"/>
<text x="0" y="0" font-size="16" text-anchor="middle" font-style="italic" font-weight="normal" fill="#000" transform="translate(21.7,915.5) rotate(-90) scale(0.905,1)">Current (mA)</text>
<rect x="897" y="857" width="1" height="119.20000000000005" fill="#000"/>
<rect x="897" y="975" width="9" height="1" fill="#000"/>
<text x="909" y="980" font-size="14" text-anchor="start" font-style="italic" font-weight="normal" fill="#000" >0</text>
<rect x="897" y="958" width="6" height="1" fill="#000"/>
<rect x="897" y="942" width="9" height="1" fill="#000"/>
<text x="909" y="947" font-size="14" text-anchor="start" font-style="italic" font-weight="normal" fill="#000" >0.1</text>
<rect x="897" y="926" width="6" height="1" fill="#000"/>
<rect x="897" y="910" width="9" height="1" fill="#000"/>
<text x="909" y="915" font-size="14" text-anchor="start" font-style="italic" font-weight="normal" fill="#000" >0.2</text>
<rect x="897" y="893" width="6" height="1" fill="#000"/>
<rect x="897" y="877" width="9" height="1" fill="#000"/>
<text x="909" y="882" font-size="14" text-anchor="start" font-style="italic" font-weight="normal" fill="#000" >0.3</text>
<rect x="897" y="861" width="6" height="1" fill="#000"/>
<text x="0" y="0" font-size="16" text-anchor="middle" font-style="italic" font-weight="normal" fill="#000" transform="translate(936,916) rotate(90) scale(0.918,1)">Inj Rate(mA/sec)</text>
<text x="0" y="0" font-size="16" text-anchor="middle" font-style="italic" font-weight="normal" fill="#000" transform="translate(952,916.5) rotate(90) scale(0.895,1)">Charge(nC)</text>
<rect x="71" y="988" width="814" height="1" fill="#000"/>
<rect x="104" y="988" width="1" height="9" fill="#000"/>
<text x="103.5" y="1008" font-size="10.8" text-anchor="middle" font-style="normal" font-weight="normal" fill="#000" >01:00:00</text>
<rect x="172" y="988" width="1" height="6" fill="#000"/>
<rect x="240" y="988" width="1" height="9" fill="#000"/>
<text x="239.5" y="1008" font-size="10.8" text-anchor="middle" font-style="normal" font-weight="normal" fill="#000" >05:00:00</text>
<rect x="307" y="988" width="1" height="6" fill="#000"/>
<rect x="375" y="988" width="1" height="9" fill="#000"/>
<text x="374.5" y="1008" font-size="10.8" text-anchor="middle" font-style="normal" font-weight="normal" fill="#000" >09:00:00</text>
<rect x="443" y="988" width="1" height="6" fill="#000"/>
<rect x="511" y="988" width="1" height="9" fill="#000"/>
<text x="510.5" y="1008" font-size="10.8" text-anchor="middle" font-style="normal" font-weight="normal" fill="#000" >13:00:00</text>
<rect x="578" y="988" width="1" height="6" fill="#000"/>
<rect x="646" y="988" width="1" height="9" fill="#000"/>
<text x="645.5" y="1008" font-size="10.8" text-anchor="middle" font-style="normal" font-weight="normal" fill="#000" >17:00:00</text>
<rect x="714" y="988" width="1" height="6" fill="#000"/>
<rect x="782" y="988" width="1" height="9" fill="#000"/>
<text x="781.5" y="1008" font-size="10.8" text-anchor="middle" font-style="normal" font-weight="normal" fill="#000" >21:00:00</text>
<rect x="849" y="988" width="1" height="6" fill="#000"/>
<rect x="975" y="841" width="114" height="24" fill="#d9d9d9"/>
<rect x="975" y="841" width="114" height="1" fill="#ffffff"/>
<rect x="975" y="841" width="1" height="24" fill="#ffffff"/>
<rect x="976" y="842" width="112" height="1" fill="#828282"/>
<rect x="976" y="842" width="1" height="22" fill="#828282"/>
<rect x="977" y="863" width="111" height="1" fill="#ffffff"/>
<rect x="1087" y="843" width="1" height="21" fill="#ffffff"/>
<rect x="976" y="864" width="113" height="1" fill="#828282"/>
<rect x="1088" y="842" width="1" height="23" fill="#828282"/>
<text x="1031.5" y="857" font-size="16" text-anchor="middle" font-style="italic" font-weight="normal" fill="#000" stroke="#000" stroke-width="0.3">CLOSE</text>
<rect x="975" y="865" width="114" height="24" fill="#f0f0f0"/>
<rect x="975" y="865" width="113" height="2" fill="#9a9a9a"/>
<rect x="975" y="865" width="2" height="23" fill="#9a9a9a"/>
<rect x="977" y="867" width="110" height="20" fill="#fff"/>
<text x="1032" y="881.1" font-size="16" text-anchor="middle" font-style="italic" font-weight="normal" fill="#000" stroke="#000" stroke-width="0.3">1.000Hz</text>
<rect x="974" y="891" width="20" height="20" fill="#ff0000"/>
<rect x="974" y="891" width="20" height="1" fill="#ff8080"/>
<rect x="974" y="891" width="1" height="20" fill="#ff8080"/>
<rect x="975" y="892" width="18" height="1" fill="#ff8080"/>
<rect x="975" y="892" width="1" height="18" fill="#ff8080"/>
<rect x="975" y="910" width="19" height="1" fill="#990000"/>
<rect x="993" y="892" width="1" height="19" fill="#990000"/>
<rect x="976" y="909" width="17" height="1" fill="#990000"/>
<rect x="992" y="893" width="1" height="17" fill="#990000"/>
<text x="1042" y="905.8" font-size="16" text-anchor="middle" font-style="italic" font-weight="normal" fill="#000" stroke="#000" stroke-width="0.3">50.02mA</text>
<rect x="974" y="915" width="20" height="20" fill="#006400"/>
<rect x="974" y="915" width="20" height="1" fill="#7fb27f"/>
<rect x="974" y="915" width="1" height="20" fill="#7fb27f"/>
<rect x="975" y="916" width="18" height="1" fill="#7fb27f"/>
<rect x="975" y="916" width="1" height="18" fill="#7fb27f"/>
<rect x="975" y="934" width="19" height="1" fill="#003c00"/>
<rect x="993" y="916" width="1" height="19" fill="#003c00"/>
<rect x="976" y="933" width="17" height="1" fill="#003c00"/>
<rect x="992" y="917" width="1" height="17" fill="#003c00"/>
<text x="1042" y="929.8" font-size="16" text-anchor="middle" font-style="italic" font-weight="normal" fill="#000" stroke="#000" stroke-width="0.3">----mA/s</text>
<rect x="974" y="939" width="20" height="20" fill="#0000ff"/>
<rect x="974" y="939" width="20" height="1" fill="#8080ff"/>
<rect x="974" y="939" width="1" height="20" fill="#8080ff"/>
<rect x="975" y="940" width="18" height="1" fill="#8080ff"/>
<rect x="975" y="940" width="1" height="18" fill="#8080ff"/>
<rect x="975" y="958" width="19" height="1" fill="#000099"/>
<rect x="993" y="940" width="1" height="19" fill="#000099"/>
<rect x="976" y="957" width="17" height="1" fill="#000099"/>
<rect x="992" y="941" width="1" height="17" fill="#000099"/>
<text x="1042" y="953.8" font-size="16" text-anchor="middle" font-style="italic" font-weight="normal" fill="#000" stroke="#000" stroke-width="0.3">----nC</text></svg>
</body></html>
